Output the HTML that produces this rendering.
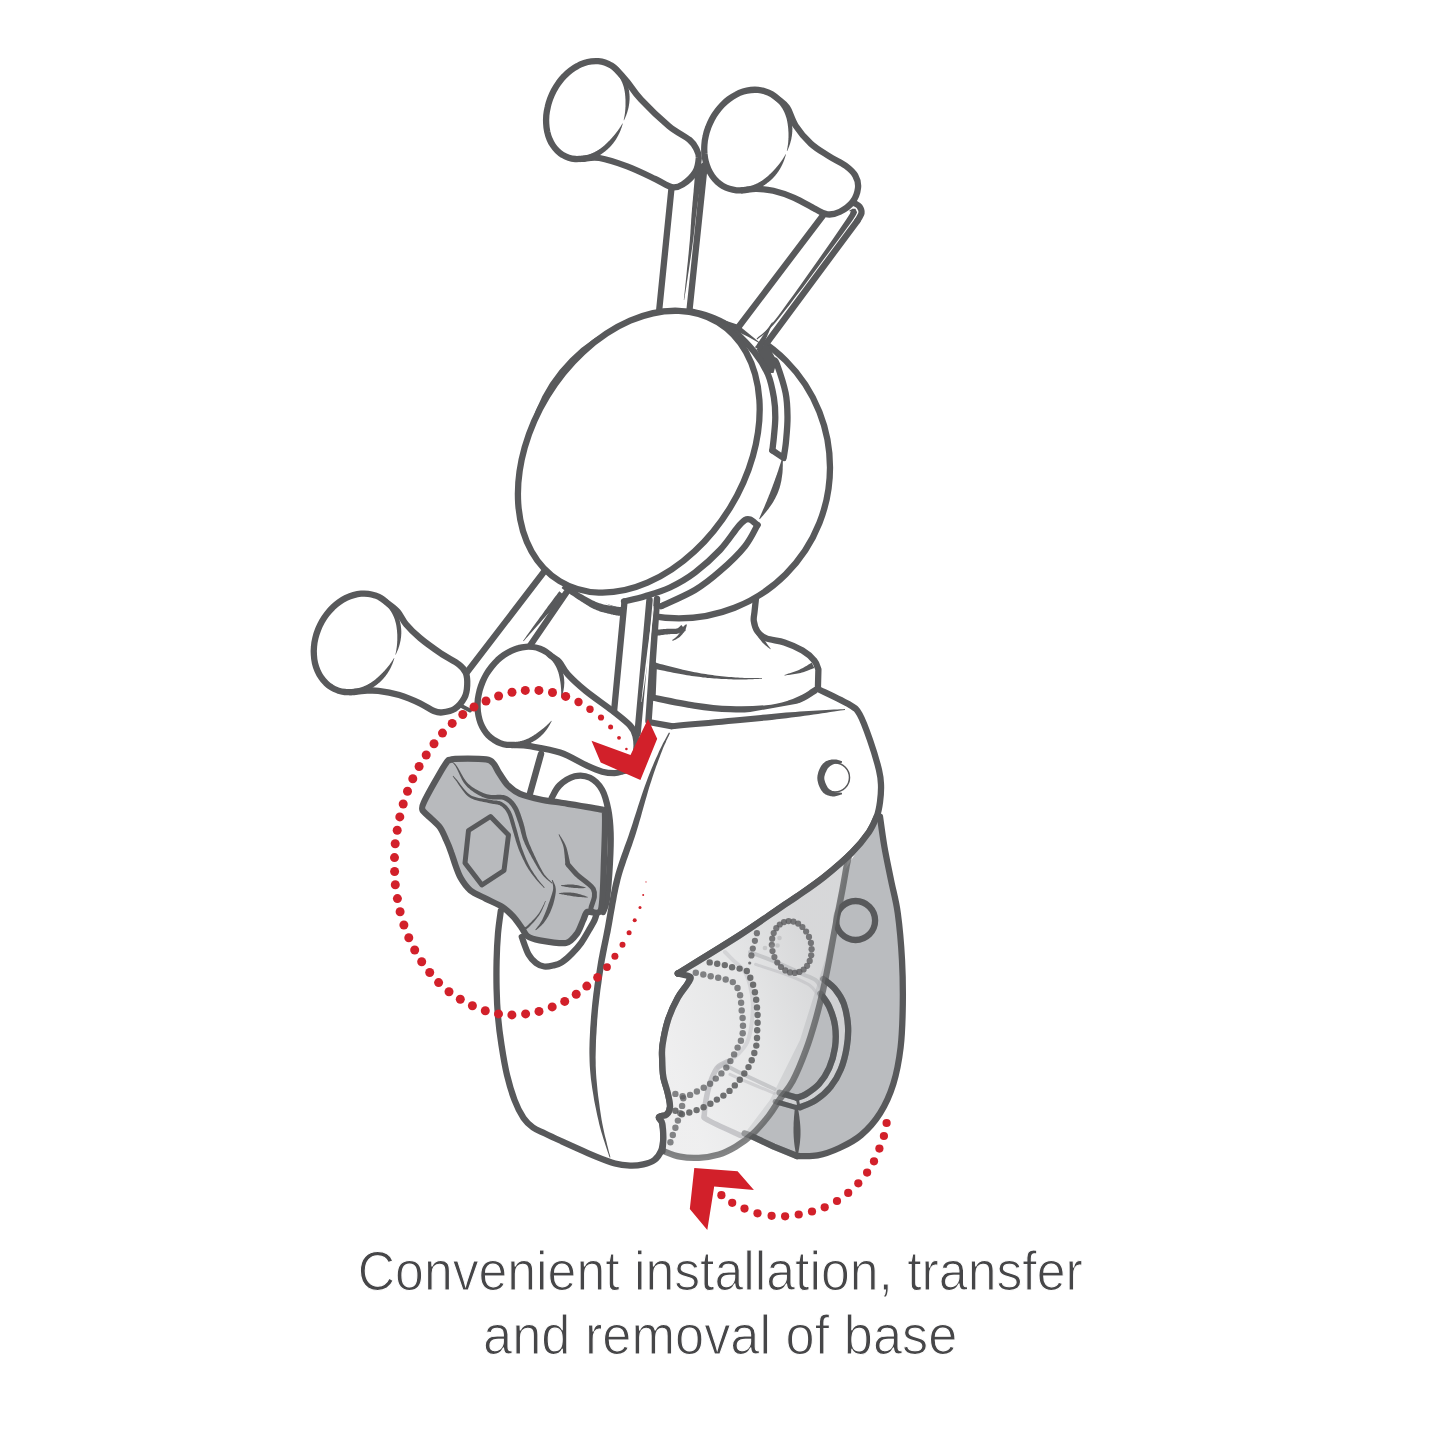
<!DOCTYPE html>
<html><head><meta charset="utf-8"><title>Convenient installation</title>
<style>
html,body{margin:0;padding:0;background:#fff;}
body{width:1440px;height:1440px;overflow:hidden;position:relative;font-family:"Liberation Sans",sans-serif;}
svg{position:absolute;left:0;top:0;}
.cap{position:absolute;left:0;width:1440px;text-align:center;color:#464648;font-family:"Liberation Sans",sans-serif;white-space:nowrap;-webkit-text-stroke:1.1px #fff;}
</style></head><body>
<svg width="1440" height="1440" viewBox="0 0 1440 1440">
<rect width="1440" height="1440" fill="#fff"/>
<path d="M756.0 598.0 C755.8 600.3 754.9 608.2 754.5 612.0 C754.1 615.8 753.3 617.8 753.8 621.0 C754.3 624.2 755.4 628.6 757.5 631.5 C759.6 634.4 761.9 636.6 766.4 638.4 C770.9 640.2 778.4 640.4 784.4 642.4 C790.4 644.4 797.5 647.5 802.5 650.5 C807.5 653.5 811.6 657.2 814.2 660.4 C816.9 663.5 817.7 667.9 818.4 669.4 L817.9 688.4 C817.0 689.0 815.0 690.4 812.5 692.0 C810.0 693.6 806.9 695.9 803.0 697.8 C799.1 699.7 795.1 701.9 789.0 703.6 C782.9 705.4 776.2 707.4 766.4 708.3 C756.6 709.2 742.3 709.7 730.3 709.2 C718.3 708.8 707.2 707.6 694.2 705.6 C681.2 703.6 659.5 698.9 652.5 697.5 L653.75 665 L657 615 L757 590 Z" fill="#fff" stroke="none" stroke-width="6.3" stroke-linejoin="round" stroke-linecap="round" />
<path d="M756.0 598.0 C755.8 600.3 754.9 608.2 754.5 612.0 C754.1 615.8 753.3 617.8 753.8 621.0 C754.3 624.2 755.4 628.6 757.5 631.5 C759.6 634.4 761.9 636.6 766.4 638.4 C770.9 640.2 778.4 640.4 784.4 642.4 C790.4 644.4 797.5 647.5 802.5 650.5 C807.5 653.5 811.6 657.2 814.2 660.4 C816.9 663.5 817.7 667.9 818.4 669.4 L817.9 688.4 C817.0 689.0 815.0 690.4 812.5 692.0 C810.0 693.6 806.9 695.9 803.0 697.8 C799.1 699.7 795.1 701.9 789.0 703.6 C782.9 705.4 776.2 707.4 766.4 708.3 C756.6 709.2 742.3 709.7 730.3 709.2 C718.3 708.8 707.2 707.6 694.2 705.6 C681.2 703.6 659.5 698.9 652.5 697.5" fill="none" stroke="#58595b" stroke-width="6.3" stroke-linejoin="round" stroke-linecap="round" />
<path d="M652.5 697.5 L653.8 665.0" fill="none" stroke="#58595b" stroke-width="6.3" stroke-linejoin="round" stroke-linecap="round" />
<path d="M653.0 668.6 L654.6 668.9 L656.5 669.3 L658.8 669.7 L661.3 670.3 L664.1 670.8 L667.1 671.4 L670.1 672.1 L673.2 672.7 L676.2 673.3 L679.2 673.8 L682.0 674.3 L684.6 674.8 L687.0 675.2 L689.4 675.5 L691.7 675.9 L694.0 676.2 L696.3 676.5 L698.5 676.8 L700.8 677.1 L703.0 677.4 L705.2 677.6 L707.5 677.9 L709.7 678.1 L712.0 678.3 L714.4 678.5 L716.7 678.6 L719.1 678.8 L721.5 678.9 L723.9 679.0 L726.3 679.1 L728.7 679.2 L731.1 679.3 L733.4 679.4 L735.7 679.4 L737.8 679.5 L740.0 679.5 L742.1 679.5 L744.3 679.4 L746.4 679.4 L748.6 679.3 L750.7 679.2 L752.7 679.2 L754.7 679.1 L756.5 679.0 L758.2 678.9 L759.7 678.8 L761.0 678.7 L762.0 678.7 L762.0 678.1 L760.9 678.1 L759.7 678.1 L758.2 678.1 L756.5 678.1 L754.7 678.1 L752.7 678.1 L750.7 678.1 L748.6 678.0 L746.4 678.0 L744.3 677.9 L742.1 677.8 L740.0 677.7 L737.9 677.6 L735.7 677.4 L733.5 677.3 L731.2 677.1 L728.9 676.9 L726.5 676.7 L724.1 676.5 L721.7 676.2 L719.4 676.0 L717.0 675.7 L714.7 675.4 L712.4 675.1 L710.1 674.8 L707.9 674.5 L705.7 674.1 L703.5 673.8 L701.3 673.4 L699.1 673.0 L696.9 672.6 L694.7 672.2 L692.4 671.7 L690.2 671.2 L687.8 670.7 L685.4 670.2 L682.9 669.7 L680.2 669.0 L677.3 668.3 L674.3 667.6 L671.3 666.8 L668.3 666.0 L665.4 665.3 L662.7 664.6 L660.1 663.9 L657.9 663.3 L656.0 662.8 L654.5 662.4Z" fill="#58595b" stroke="none"/>
<path d="M784.6 675.5 L785.3 675.4 L786.3 675.2 L787.5 675.1 L788.8 674.9 L790.2 674.7 L791.6 674.5 L793.2 674.3 L794.7 674.1 L796.3 673.8 L797.8 673.5 L799.2 673.2 L800.6 672.9 L801.9 672.6 L803.2 672.2 L804.6 671.7 L805.9 671.2 L807.3 670.7 L808.5 670.3 L809.8 669.8 L810.9 669.3 L812.0 668.9 L812.9 668.5 L813.7 668.2 L814.3 668.0 L811.7 662.6 L811.1 663.0 L810.3 663.4 L809.5 664.0 L808.5 664.5 L807.5 665.2 L806.4 665.9 L805.2 666.5 L804.1 667.2 L802.9 667.9 L801.7 668.5 L800.6 669.1 L799.4 669.7 L798.3 670.2 L797.0 670.7 L795.6 671.2 L794.1 671.7 L792.7 672.2 L791.2 672.7 L789.8 673.2 L788.5 673.6 L787.2 674.0 L786.1 674.4 L785.2 674.7 L784.4 674.9Z" fill="#58595b" stroke="none"/>
<path d="M756.1 634.4 L756.4 634.8 L756.8 635.3 L757.3 635.9 L757.8 636.6 L758.4 637.4 L759.0 638.2 L759.6 639.0 L760.2 639.8 L760.9 640.6 L761.6 641.4 L762.2 642.2 L762.8 642.9 L763.5 643.5 L764.2 644.2 L764.9 644.8 L765.6 645.4 L766.3 646.0 L767.0 646.6 L767.7 647.2 L768.4 647.7 L769.0 648.1 L769.5 648.6 L769.9 648.9 L770.3 649.2 L770.7 648.8 L770.4 648.4 L770.1 648.0 L769.7 647.4 L769.2 646.8 L768.7 646.2 L768.2 645.5 L767.6 644.8 L767.1 644.0 L766.6 643.3 L766.1 642.6 L765.6 641.8 L765.2 641.1 L764.8 640.4 L764.4 639.6 L764.0 638.7 L763.5 637.8 L763.1 636.9 L762.7 636.0 L762.3 635.1 L762.0 634.2 L761.6 633.4 L761.3 632.7 L761.1 632.1 L760.9 631.6Z" fill="#58595b" stroke="none"/>
<path d="M656.3 635.8 L656.9 635.7 L657.7 635.6 L658.6 635.5 L659.5 635.4 L660.6 635.2 L661.7 635.1 L662.9 634.9 L664.0 634.8 L665.2 634.6 L666.3 634.5 L667.3 634.4 L668.2 634.3 L669.0 634.2 L669.8 634.2 L670.7 634.1 L671.5 634.1 L672.3 634.1 L673.1 634.1 L674.0 634.1 L674.8 634.1 L675.7 634.0 L676.5 633.9 L677.4 633.7 L678.3 633.5 L679.1 633.2 L679.9 632.8 L680.7 632.3 L681.3 631.9 L682.0 631.4 L682.5 630.9 L683.0 630.4 L683.5 630.0 L683.8 629.6 L684.2 629.3 L684.4 629.1 L684.6 628.9 L681.4 625.1 L681.1 625.3 L680.7 625.6 L680.4 626.0 L680.0 626.3 L679.6 626.7 L679.2 627.0 L678.8 627.4 L678.3 627.7 L677.9 628.0 L677.5 628.2 L677.1 628.4 L676.7 628.5 L676.3 628.6 L675.8 628.7 L675.2 628.7 L674.6 628.7 L673.9 628.7 L673.2 628.7 L672.4 628.7 L671.5 628.7 L670.6 628.7 L669.7 628.7 L668.8 628.7 L667.8 628.7 L666.8 628.8 L665.7 628.9 L664.6 629.0 L663.4 629.1 L662.3 629.2 L661.1 629.3 L659.9 629.4 L658.9 629.5 L657.9 629.6 L657.0 629.7 L656.3 629.8 L655.7 629.8Z" fill="#58595b" stroke="none"/>
<path d="M685.1 631.3 L685.2 631.0 L685.3 630.6 L685.5 630.0 L685.6 629.4 L685.8 628.7 L686.0 628.1 L686.2 627.4 L686.4 626.7 L686.6 626.1 L686.7 625.6 L686.8 625.1 L686.9 624.8 L686.1 624.2 L685.8 624.5 L685.5 624.8 L685.0 625.1 L684.5 625.5 L684.0 626.0 L683.5 626.4 L682.9 626.9 L682.4 627.3 L681.9 627.8 L681.5 628.1 L681.2 628.4 L680.9 628.7Z" fill="#58595b" stroke="none"/>
<path d="M672.8 640.9 L673.1 640.7 L673.5 640.5 L674.0 640.3 L674.6 640.0 L675.2 639.7 L675.9 639.4 L676.6 639.0 L677.2 638.6 L677.9 638.2 L678.6 637.8 L679.3 637.3 L679.9 636.9 L680.4 636.3 L681.0 635.7 L681.6 635.1 L682.2 634.5 L682.7 633.8 L683.3 633.1 L683.8 632.5 L684.3 631.9 L684.7 631.3 L685.1 630.8 L685.4 630.4 L685.7 630.1 L682.3 627.9 L682.1 628.3 L681.9 628.8 L681.6 629.3 L681.2 629.9 L680.9 630.6 L680.5 631.3 L680.1 632.0 L679.7 632.7 L679.3 633.4 L678.9 634.0 L678.5 634.6 L678.1 635.1 L677.7 635.6 L677.2 636.1 L676.7 636.6 L676.2 637.1 L675.6 637.5 L675.0 638.0 L674.4 638.4 L673.9 638.8 L673.4 639.2 L672.9 639.5 L672.5 639.8 L672.2 640.1Z" fill="#58595b" stroke="none"/>
<circle cx="679" cy="467.4" r="151" fill="#fff" stroke="#58595b" stroke-width="6.3"/>
<path d="M671.5 188.0 L659.0 312.0 L689.3 312.0 L704.7 165.0Z" fill="#fff" stroke="#58595b" stroke-width="6.3" stroke-linejoin="round" stroke-linecap="round" />
<path d="M695.8 164.6 L695.7 165.8 L695.6 167.4 L695.4 169.2 L695.3 171.2 L695.1 173.4 L694.9 175.7 L694.7 178.1 L694.5 180.6 L694.3 183.0 L694.1 185.3 L693.9 187.6 L693.7 189.7 L693.6 191.7 L693.4 193.6 L693.2 195.5 L693.0 197.3 L692.9 199.2 L692.7 201.0 L692.5 202.9 L692.4 204.8 L692.2 206.7 L692.0 208.6 L691.9 210.7 L691.7 212.8 L691.5 214.9 L691.4 217.0 L691.2 219.2 L691.1 221.4 L691.0 223.6 L690.8 225.8 L690.7 228.1 L690.5 230.5 L690.4 232.9 L690.2 235.5 L690.0 238.1 L689.8 240.8 L689.5 243.7 L689.2 246.9 L688.9 250.3 L688.6 253.7 L688.2 257.3 L687.9 260.9 L687.5 264.4 L687.1 267.9 L686.8 271.2 L686.5 274.4 L686.2 277.3 L685.9 279.9 L685.7 282.3 L685.4 284.6 L685.2 286.7 L685.0 288.8 L684.8 290.6 L684.6 292.4 L684.4 294.0 L684.3 295.5 L684.1 296.8 L684.0 298.0 L683.9 299.1 L683.8 300.0 L684.2 300.0 L684.3 299.1 L684.5 298.1 L684.7 296.9 L684.9 295.6 L685.1 294.1 L685.4 292.5 L685.7 290.7 L685.9 288.9 L686.3 286.9 L686.6 284.7 L686.9 282.5 L687.3 280.1 L687.7 277.5 L688.1 274.6 L688.6 271.4 L689.1 268.1 L689.6 264.7 L690.1 261.1 L690.7 257.6 L691.2 254.1 L691.7 250.6 L692.2 247.3 L692.6 244.1 L693.0 241.2 L693.4 238.4 L693.7 235.8 L694.0 233.3 L694.3 230.8 L694.6 228.5 L694.8 226.2 L695.1 223.9 L695.3 221.7 L695.6 219.6 L695.8 217.5 L696.1 215.3 L696.3 213.2 L696.6 211.2 L696.8 209.2 L697.1 207.2 L697.4 205.3 L697.6 203.5 L697.9 201.6 L698.1 199.8 L698.4 197.9 L698.7 196.1 L698.9 194.2 L699.2 192.3 L699.5 190.3 L699.8 188.2 L700.1 186.0 L700.4 183.6 L700.7 181.2 L701.0 178.8 L701.3 176.4 L701.6 174.1 L701.9 171.9 L702.2 169.9 L702.4 168.1 L702.6 166.6 L702.8 165.4Z" fill="#58595b" stroke="none"/>
<path d="M822.6 216.0 L739.4 326.0 L763.9 346.0 L857.4 220.8Z" fill="#fff" stroke="none" stroke-width="6.3" stroke-linejoin="round" stroke-linecap="round" />
<path d="M822.6 216.0 L738.5 327.0" fill="none" stroke="#58595b" stroke-width="6.3" stroke-linejoin="round" stroke-linecap="round" />
<path d="M857.4 220.8 L766.0 344.0" fill="none" stroke="#58595b" stroke-width="6.3" stroke-linejoin="round" stroke-linecap="round" />
<path d="M854.7 203.3 C855.5 203.8 858.4 204.9 859.5 206.5 C860.6 208.1 861.9 210.6 861.5 213.0 C861.1 215.4 858.1 219.5 857.4 220.8" fill="none" stroke="#58595b" stroke-width="6.3" stroke-linejoin="round" stroke-linecap="round" />
<path d="M849.1 216.9 L851.2 216.8 L852.3 216.1 L853.1 215.5 L853.9 214.8 L854.6 214.3 L854.8 214.1 L852.8 214.0 L851.3 211.2 L851.2 211.4 L850.4 213.0 L848.8 215.6 L846.4 219.2 L843.0 224.3 L838.4 230.9 L833.1 238.7 L827.0 247.4 L820.5 256.7 L813.8 266.3 L806.9 276.0 L800.2 285.5 L793.8 294.4 L787.9 302.6 L782.7 309.7 L778.5 315.4 L775.0 320.0 L771.9 323.8 L769.3 326.9 L767.0 329.4 L765.0 331.4 L763.3 333.0 L761.9 334.2 L760.6 335.2 L759.5 336.1 L758.5 336.8 L757.5 337.7 L756.6 338.6 L757.4 339.4 L758.3 338.6 L759.3 337.8 L760.3 337.1 L761.4 336.3 L762.8 335.3 L764.3 334.1 L766.1 332.5 L768.1 330.5 L770.5 328.0 L773.3 325.0 L776.5 321.2 L780.1 316.8 L784.6 311.1 L790.0 304.2 L796.1 296.1 L802.8 287.4 L809.8 278.1 L816.9 268.6 L823.9 259.1 L830.7 250.0 L837.0 241.5 L842.6 233.9 L847.3 227.4 L851.0 222.4 L853.6 218.7 L855.3 215.9 L856.4 214.0 L857.1 212.3 L855.4 208.7 L852.4 208.8 L851.3 209.4 L850.3 210.1 L849.4 210.8 L848.8 211.3 L848.9 211.3 L850.7 211.1Z" fill="#58595b" stroke="none"/>
<path d="M582.2 158.8 C578.2 159.0 577.5 159.2 575.3 159.0 C573.0 158.8 570.8 158.4 568.7 157.7 C566.6 157.0 564.5 156.1 562.6 154.9 C560.7 153.8 558.9 152.4 557.3 150.8 C555.7 149.2 554.2 147.4 552.9 145.4 C551.6 143.4 550.4 141.3 549.5 139.0 C548.5 136.7 547.8 134.2 547.2 131.6 C546.7 129.1 546.3 126.4 546.2 123.7 C546.0 120.9 546.1 118.1 546.3 115.3 C546.6 112.5 547.1 109.6 547.8 106.7 C548.4 103.9 549.3 101.1 550.3 98.3 C551.4 95.5 552.7 92.8 554.0 90.2 C555.4 87.6 557.0 85.1 558.7 82.7 C560.5 80.4 562.3 78.1 564.3 76.1 C566.3 74.0 568.4 72.1 570.5 70.5 C572.7 68.8 575.0 67.3 577.3 66.1 C579.5 64.8 581.9 63.8 584.3 63.0 C586.6 62.2 589.0 61.7 591.4 61.4 C593.7 61.1 596.1 61.0 598.3 61.2 C600.6 61.4 602.8 61.8 604.9 62.5 C607.0 63.2 609.1 64.1 611.0 65.3 C612.9 66.4 613.6 66.7 616.3 69.4 C619.0 72.2 623.1 76.7 627.2 81.7 C631.3 86.7 634.2 92.3 641.1 99.7 C648.0 107.1 660.8 119.4 668.9 126.1 C677.0 132.8 685.1 136.1 689.7 140.0 C694.3 143.9 695.2 146.7 696.7 149.7 C698.2 152.7 699.0 154.3 698.8 158.0 C698.5 161.7 698.0 167.6 695.3 172.0 C692.6 176.4 686.7 181.9 682.8 184.4 C678.9 186.9 676.3 188.1 671.7 187.2 C667.1 186.3 662.4 182.4 655.0 178.9 C647.6 175.4 636.5 169.9 627.2 166.4 C617.9 162.9 606.9 159.3 599.4 158.0 C591.9 156.7 586.3 158.7 582.2 158.8Z" fill="#fff" stroke="#58595b" stroke-width="6.3" stroke-linejoin="round" stroke-linecap="round" />
<path d="M612.4 69.6 L612.6 69.8 L612.8 70.0 L613.0 70.1 L613.2 70.3 L613.5 70.6 L613.8 70.8 L614.1 71.0 L614.4 71.3 L614.6 71.5 L614.9 71.8 L615.1 72.0 L615.3 72.2 L615.6 72.4 L615.8 72.7 L616.0 72.9 L616.2 73.1 L616.4 73.4 L616.6 73.6 L616.9 73.8 L617.1 74.1 L617.3 74.3 L617.5 74.6 L617.7 74.8 L617.9 75.1 L618.1 75.4 L618.3 75.6 L618.5 75.9 L618.7 76.2 L618.8 76.4 L619.0 76.7 L619.2 77.0 L619.4 77.3 L619.6 77.5 L619.8 77.8 L619.9 78.1 L620.1 78.4 L620.3 78.7 L620.4 79.0 L620.6 79.3 L620.8 79.6 L620.9 79.9 L621.1 80.2 L621.2 80.5 L621.4 80.8 L621.5 81.2 L621.7 81.5 L621.8 81.8 L622.0 82.1 L622.1 82.4 L622.3 82.8 L622.4 83.1 L622.5 83.4 L622.6 83.8 L622.8 84.1 L622.9 84.4 L623.0 84.8 L623.1 85.1 L623.2 85.5 L623.4 85.8 L623.5 86.2 L623.6 86.5 L623.7 86.9 L623.8 87.2 L623.9 87.6 L624.0 87.9 L624.0 88.3 L624.1 88.7 L624.2 89.0 L624.3 89.4 L624.4 89.8 L624.4 90.1 L624.5 90.5 L624.6 90.9 L624.6 91.2 L624.7 91.6 L624.8 92.0 L624.8 92.4 L624.9 92.8 L624.9 93.1 L625.0 93.5 L625.0 93.9 L625.1 94.3 L625.1 94.7 L625.1 95.1 L625.2 95.5 L625.2 95.9 L625.3 96.2 L625.3 96.6 L625.3 97.0 L625.3 97.4 L625.4 97.8 L625.4 98.2 L625.4 98.6 L625.4 99.0 L625.5 99.4 L625.5 99.8 L625.5 100.2 L625.5 100.6 L625.5 101.0 L625.5 101.5 L625.5 101.9 L625.5 102.3 L625.5 102.7 L625.5 103.1 L625.5 103.5 L625.5 103.9 L625.5 104.3 L625.5 104.8 L625.5 105.2 L625.5 105.6 L625.5 106.0 L625.5 106.4 L625.5 106.8 L625.4 107.3 L625.4 107.7 L625.4 108.1 L625.4 108.5 L625.3 109.0 L625.3 109.4 L625.3 109.8 L625.2 110.2 L625.2 110.7 L625.2 111.1 L625.1 111.5 L625.1 111.9 L625.0 112.4 L625.0 112.8 L624.9 113.2 L624.9 113.7 L624.8 114.1 L624.7 114.5 L624.7 115.0 L624.6 115.4 L624.5 115.9 L624.4 116.4 L624.3 116.9 L624.2 117.4 L624.1 117.9 L624.0 118.4 L623.9 118.8 L623.9 119.2 L623.8 119.6 L623.7 119.9 L623.7 120.2 L624.1 120.3 L624.2 120.1 L624.3 119.8 L624.4 119.4 L624.6 119.0 L624.8 118.6 L625.0 118.2 L625.2 117.7 L625.4 117.2 L625.6 116.7 L625.8 116.3 L626.0 115.8 L626.2 115.4 L626.3 114.9 L626.5 114.5 L626.6 114.1 L626.8 113.7 L626.9 113.3 L627.1 112.8 L627.2 112.4 L627.3 112.0 L627.5 111.6 L627.6 111.1 L627.7 110.7 L627.8 110.3 L627.9 109.8 L628.1 109.4 L628.2 109.0 L628.3 108.5 L628.4 108.1 L628.5 107.7 L628.6 107.2 L628.7 106.8 L628.7 106.4 L628.8 105.9 L628.9 105.5 L629.0 105.1 L629.0 104.6 L629.1 104.2 L629.2 103.8 L629.2 103.3 L629.3 102.9 L629.3 102.5 L629.4 102.0 L629.4 101.6 L629.4 101.2 L629.5 100.7 L629.5 100.3 L629.5 99.9 L629.6 99.4 L629.6 99.0 L629.6 98.6 L629.6 98.1 L629.6 97.7 L629.6 97.3 L629.6 96.8 L629.6 96.4 L629.6 96.0 L629.5 95.6 L629.5 95.1 L629.5 94.7 L629.5 94.3 L629.4 93.9 L629.4 93.4 L629.3 93.0 L629.3 92.6 L629.2 92.2 L629.2 91.8 L629.1 91.4 L629.1 90.9 L629.0 90.5 L628.9 90.1 L628.8 89.7 L628.8 89.3 L628.7 88.9 L628.6 88.5 L628.5 88.1 L628.4 87.7 L628.4 87.3 L628.3 86.9 L628.2 86.5 L628.1 86.1 L628.0 85.7 L627.9 85.3 L627.8 84.9 L627.7 84.5 L627.5 84.1 L627.4 83.8 L627.3 83.4 L627.2 83.0 L627.1 82.6 L626.9 82.2 L626.8 81.8 L626.7 81.5 L626.5 81.1 L626.4 80.7 L626.2 80.4 L626.1 80.0 L626.0 79.6 L625.8 79.3 L625.6 78.9 L625.5 78.5 L625.3 78.2 L625.2 77.8 L625.0 77.5 L624.8 77.1 L624.7 76.8 L624.5 76.4 L624.3 76.1 L624.1 75.8 L623.9 75.4 L623.8 75.1 L623.6 74.7 L623.4 74.4 L623.2 74.1 L623.0 73.8 L622.8 73.4 L622.6 73.1 L622.4 72.8 L622.2 72.5 L621.9 72.2 L621.7 71.8 L621.5 71.5 L621.3 71.2 L621.1 70.9 L620.8 70.6 L620.6 70.3 L620.4 70.0 L620.1 69.7 L619.9 69.5 L619.7 69.2 L619.4 68.9 L619.2 68.6 L618.9 68.3 L618.6 68.0 L618.3 67.7 L618.0 67.4 L617.7 67.1 L617.4 66.8 L617.1 66.5 L616.9 66.3 L616.6 66.1 L616.4 65.9 L616.3 65.7 L616.1 65.6Z" fill="#58595b" stroke="none"/>
<path d="M579.7 162.2 L579.9 162.2 L580.2 162.2 L580.5 162.1 L580.8 162.1 L581.2 162.0 L581.6 162.0 L582.0 161.9 L582.4 161.9 L582.9 161.8 L583.3 161.8 L583.7 161.7 L584.1 161.6 L584.5 161.5 L584.9 161.4 L585.3 161.4 L585.7 161.3 L586.1 161.2 L586.4 161.1 L586.8 161.0 L587.2 160.9 L587.6 160.8 L588.0 160.6 L588.3 160.5 L588.7 160.4 L589.1 160.3 L589.5 160.2 L589.8 160.0 L590.2 159.9 L590.6 159.7 L591.0 159.6 L591.4 159.5 L591.7 159.3 L592.1 159.2 L592.5 159.0 L592.8 158.8 L593.2 158.7 L593.6 158.5 L594.0 158.3 L594.3 158.2 L594.7 158.0 L595.1 157.8 L595.4 157.6 L595.8 157.4 L596.2 157.2 L596.5 157.1 L596.9 156.9 L597.2 156.7 L597.6 156.5 L598.0 156.2 L598.3 156.0 L598.7 155.8 L599.0 155.6 L599.4 155.4 L599.8 155.2 L600.1 154.9 L600.5 154.7 L600.8 154.5 L601.2 154.2 L601.5 154.0 L601.9 153.8 L602.2 153.5 L602.6 153.3 L602.9 153.0 L603.3 152.8 L603.6 152.5 L603.9 152.3 L604.3 152.0 L604.6 151.7 L605.0 151.5 L605.3 151.2 L605.6 150.9 L606.0 150.6 L606.3 150.4 L606.6 150.1 L607.0 149.8 L607.3 149.5 L607.6 149.2 L608.0 148.9 L608.3 148.6 L608.6 148.3 L608.9 148.0 L609.2 147.7 L609.5 147.4 L609.9 147.1 L610.2 146.8 L610.5 146.5 L610.8 146.1 L611.1 145.8 L611.4 145.5 L611.7 145.1 L612.0 144.8 L612.2 144.5 L612.5 144.1 L612.8 143.8 L613.1 143.4 L613.4 143.1 L613.6 142.7 L613.9 142.3 L614.2 142.0 L614.4 141.6 L614.7 141.3 L615.0 140.9 L615.2 140.5 L615.5 140.1 L615.7 139.8 L616.0 139.4 L616.2 139.0 L616.4 138.6 L616.7 138.2 L616.9 137.8 L617.1 137.4 L617.3 137.0 L617.6 136.6 L617.8 136.2 L618.0 135.8 L618.2 135.4 L618.4 135.0 L618.6 134.6 L618.8 134.2 L619.0 133.8 L619.2 133.4 L619.4 133.0 L619.6 132.6 L619.8 132.2 L620.0 131.7 L620.1 131.3 L620.3 130.9 L620.5 130.5 L620.7 130.1 L620.8 129.6 L621.0 129.2 L621.1 128.8 L621.3 128.3 L621.5 127.9 L621.6 127.4 L621.8 126.9 L621.9 126.4 L622.1 125.9 L622.2 125.4 L622.4 125.0 L622.5 124.6 L622.6 124.2 L622.7 123.9 L622.8 123.6 L622.4 123.5 L622.3 123.7 L622.1 124.0 L621.9 124.3 L621.7 124.7 L621.5 125.1 L621.2 125.5 L620.9 125.9 L620.7 126.4 L620.4 126.8 L620.1 127.2 L619.9 127.6 L619.6 128.0 L619.4 128.4 L619.1 128.8 L618.9 129.1 L618.6 129.5 L618.4 129.8 L618.1 130.2 L617.9 130.6 L617.6 130.9 L617.3 131.3 L617.1 131.6 L616.8 132.0 L616.5 132.3 L616.3 132.6 L616.0 133.0 L615.7 133.3 L615.5 133.7 L615.2 134.0 L614.9 134.3 L614.7 134.7 L614.4 135.0 L614.1 135.3 L613.8 135.7 L613.6 136.0 L613.3 136.3 L613.0 136.6 L612.7 137.0 L612.4 137.3 L612.2 137.6 L611.9 137.9 L611.6 138.2 L611.3 138.5 L611.0 138.8 L610.7 139.2 L610.4 139.5 L610.2 139.8 L609.9 140.1 L609.6 140.4 L609.3 140.7 L609.0 141.0 L608.7 141.3 L608.4 141.5 L608.1 141.8 L607.8 142.1 L607.5 142.4 L607.2 142.7 L607.0 143.0 L606.7 143.3 L606.4 143.5 L606.1 143.8 L605.8 144.1 L605.5 144.4 L605.2 144.6 L604.9 144.9 L604.6 145.2 L604.3 145.5 L604.0 145.7 L603.7 146.0 L603.4 146.2 L603.1 146.5 L602.8 146.7 L602.5 147.0 L602.1 147.2 L601.8 147.5 L601.5 147.7 L601.2 148.0 L600.9 148.2 L600.6 148.4 L600.3 148.6 L600.0 148.9 L599.6 149.1 L599.3 149.3 L599.0 149.5 L598.7 149.7 L598.4 149.9 L598.0 150.1 L597.7 150.3 L597.4 150.5 L597.1 150.7 L596.7 150.9 L596.4 151.1 L596.1 151.3 L595.7 151.5 L595.4 151.6 L595.1 151.8 L594.8 152.0 L594.4 152.2 L594.1 152.3 L593.8 152.5 L593.4 152.6 L593.1 152.8 L592.8 152.9 L592.4 153.1 L592.1 153.2 L591.8 153.3 L591.4 153.5 L591.1 153.6 L590.8 153.7 L590.4 153.9 L590.1 154.0 L589.8 154.1 L589.4 154.2 L589.1 154.3 L588.8 154.4 L588.4 154.5 L588.1 154.6 L587.8 154.7 L587.4 154.8 L587.1 154.9 L586.8 155.0 L586.4 155.1 L586.1 155.1 L585.8 155.2 L585.4 155.3 L585.1 155.3 L584.8 155.4 L584.5 155.5 L584.1 155.5 L583.8 155.6 L583.5 155.6 L583.2 155.7 L582.8 155.7 L582.5 155.7 L582.1 155.8 L581.8 155.8 L581.4 155.8 L581.0 155.9 L580.6 155.9 L580.3 155.9 L579.9 155.9 L579.6 155.9 L579.3 155.9 L579.1 156.0Z" fill="#58595b" stroke="none"/>
<path d="M743.8 190.2 C740.4 190.4 738.8 190.5 736.4 190.3 C734.0 190.0 731.6 189.5 729.3 188.8 C727.1 188.1 724.9 187.1 722.8 185.9 C720.8 184.7 718.8 183.2 717.0 181.6 C715.3 179.9 713.6 178.0 712.2 176.0 C710.7 173.9 709.5 171.7 708.4 169.3 C707.3 166.9 706.4 164.4 705.8 161.8 C705.1 159.1 704.7 156.3 704.4 153.5 C704.2 150.7 704.2 147.8 704.4 144.9 C704.6 142.0 705.0 139.0 705.7 136.1 C706.3 133.2 707.1 130.3 708.2 127.5 C709.2 124.7 710.5 121.9 711.9 119.2 C713.3 116.6 714.9 114.0 716.7 111.6 C718.4 109.2 720.4 106.9 722.4 104.8 C724.4 102.7 726.6 100.8 728.9 99.1 C731.1 97.4 733.5 95.9 735.9 94.7 C738.3 93.4 740.8 92.4 743.3 91.6 C745.8 90.8 748.3 90.3 750.8 90.0 C753.3 89.7 755.8 89.7 758.2 89.9 C760.6 90.2 763.0 90.7 765.3 91.4 C767.5 92.1 769.7 93.1 771.8 94.3 C773.8 95.5 775.0 96.4 777.6 98.6 C780.1 100.8 784.2 103.0 787.2 107.5 C790.2 112.0 791.7 119.6 795.6 125.6 C799.5 131.6 805.2 138.5 810.8 143.6 C816.3 148.7 823.1 152.4 828.9 156.1 C834.7 159.8 841.2 162.6 845.6 165.8 C850.0 169.1 853.2 171.9 855.3 175.6 C857.4 179.3 858.5 183.6 858.0 188.0 C857.5 192.4 855.5 198.1 852.5 202.0 C849.5 205.9 844.2 209.6 840.0 211.7 C835.8 213.8 831.7 214.9 827.5 214.4 C823.3 213.9 820.5 211.7 815.0 208.9 C809.5 206.1 801.2 200.8 794.2 197.8 C787.2 194.8 779.5 192.3 773.3 190.8 C767.0 189.3 761.6 188.9 756.7 188.8 C751.8 188.6 747.2 189.9 743.8 190.2Z" fill="#fff" stroke="#58595b" stroke-width="6.3" stroke-linejoin="round" stroke-linecap="round" />
<path d="M773.5 98.8 L773.7 99.0 L773.9 99.1 L774.2 99.3 L774.5 99.6 L774.7 99.8 L775.0 100.0 L775.3 100.3 L775.7 100.5 L776.0 100.8 L776.2 101.0 L776.5 101.3 L776.8 101.5 L777.0 101.7 L777.2 102.0 L777.5 102.2 L777.7 102.5 L778.0 102.7 L778.2 103.0 L778.4 103.2 L778.7 103.5 L778.9 103.7 L779.1 104.0 L779.3 104.3 L779.5 104.5 L779.8 104.8 L780.0 105.1 L780.2 105.4 L780.4 105.6 L780.6 105.9 L780.8 106.2 L781.0 106.5 L781.2 106.8 L781.4 107.1 L781.6 107.4 L781.8 107.7 L782.0 108.0 L782.2 108.3 L782.4 108.6 L782.6 108.9 L782.8 109.2 L782.9 109.5 L783.1 109.9 L783.3 110.2 L783.5 110.5 L783.6 110.8 L783.8 111.2 L784.0 111.5 L784.1 111.8 L784.3 112.2 L784.4 112.5 L784.6 112.8 L784.7 113.2 L784.9 113.5 L785.0 113.9 L785.1 114.2 L785.3 114.6 L785.4 114.9 L785.5 115.3 L785.7 115.7 L785.8 116.0 L785.9 116.4 L786.0 116.7 L786.1 117.1 L786.3 117.5 L786.4 117.9 L786.5 118.2 L786.6 118.6 L786.7 119.0 L786.8 119.4 L786.9 119.7 L786.9 120.1 L787.0 120.5 L787.1 120.9 L787.2 121.3 L787.3 121.7 L787.3 122.1 L787.4 122.4 L787.5 122.8 L787.5 123.2 L787.6 123.6 L787.7 124.0 L787.7 124.4 L787.8 124.8 L787.8 125.2 L787.9 125.6 L787.9 126.0 L788.0 126.4 L788.0 126.8 L788.1 127.2 L788.1 127.7 L788.2 128.1 L788.2 128.5 L788.2 128.9 L788.3 129.3 L788.3 129.7 L788.3 130.1 L788.3 130.5 L788.4 130.9 L788.4 131.4 L788.4 131.8 L788.4 132.2 L788.5 132.6 L788.5 133.0 L788.5 133.5 L788.5 133.9 L788.5 134.3 L788.5 134.7 L788.5 135.2 L788.5 135.6 L788.5 136.0 L788.5 136.5 L788.5 136.9 L788.5 137.3 L788.5 137.7 L788.4 138.2 L788.4 138.6 L788.4 139.0 L788.4 139.5 L788.4 139.9 L788.3 140.3 L788.3 140.8 L788.3 141.2 L788.2 141.7 L788.2 142.1 L788.2 142.5 L788.1 143.0 L788.1 143.4 L788.0 143.9 L788.0 144.3 L787.9 144.7 L787.8 145.2 L787.8 145.6 L787.7 146.1 L787.6 146.6 L787.6 147.1 L787.5 147.6 L787.4 148.1 L787.3 148.6 L787.2 149.1 L787.1 149.6 L787.0 150.0 L786.9 150.4 L786.9 150.7 L786.8 150.9 L787.2 151.1 L787.3 150.8 L787.4 150.5 L787.6 150.2 L787.8 149.8 L787.9 149.3 L788.1 148.9 L788.3 148.4 L788.5 147.9 L788.7 147.4 L788.9 146.9 L789.1 146.4 L789.3 146.0 L789.4 145.6 L789.6 145.1 L789.7 144.7 L789.9 144.3 L790.0 143.8 L790.1 143.4 L790.3 143.0 L790.4 142.5 L790.5 142.1 L790.6 141.6 L790.8 141.2 L790.9 140.8 L791.0 140.3 L791.1 139.9 L791.2 139.4 L791.3 139.0 L791.4 138.5 L791.5 138.1 L791.5 137.6 L791.6 137.2 L791.7 136.7 L791.8 136.3 L791.8 135.9 L791.9 135.4 L792.0 135.0 L792.0 134.5 L792.1 134.1 L792.1 133.6 L792.2 133.2 L792.2 132.7 L792.2 132.3 L792.3 131.8 L792.3 131.4 L792.3 130.9 L792.3 130.5 L792.3 130.0 L792.4 129.6 L792.4 129.1 L792.4 128.7 L792.4 128.3 L792.3 127.8 L792.3 127.4 L792.3 126.9 L792.3 126.5 L792.3 126.0 L792.2 125.6 L792.2 125.2 L792.2 124.7 L792.1 124.3 L792.1 123.9 L792.0 123.4 L791.9 123.0 L791.9 122.6 L791.8 122.1 L791.7 121.7 L791.7 121.3 L791.6 120.9 L791.5 120.4 L791.4 120.0 L791.3 119.6 L791.3 119.2 L791.2 118.7 L791.1 118.3 L791.0 117.9 L790.9 117.5 L790.8 117.1 L790.6 116.7 L790.5 116.3 L790.4 115.9 L790.3 115.4 L790.2 115.0 L790.0 114.6 L789.9 114.2 L789.8 113.8 L789.7 113.4 L789.5 113.0 L789.4 112.7 L789.2 112.3 L789.1 111.9 L788.9 111.5 L788.8 111.1 L788.6 110.7 L788.5 110.3 L788.3 109.9 L788.1 109.6 L788.0 109.2 L787.8 108.8 L787.6 108.4 L787.5 108.1 L787.3 107.7 L787.1 107.3 L786.9 107.0 L786.7 106.6 L786.5 106.3 L786.3 105.9 L786.1 105.5 L785.9 105.2 L785.7 104.8 L785.5 104.5 L785.3 104.2 L785.1 103.8 L784.9 103.5 L784.7 103.1 L784.4 102.8 L784.2 102.5 L784.0 102.1 L783.8 101.8 L783.5 101.5 L783.3 101.2 L783.0 100.8 L782.8 100.5 L782.6 100.2 L782.3 99.9 L782.1 99.6 L781.8 99.3 L781.5 99.0 L781.3 98.7 L781.0 98.4 L780.8 98.1 L780.5 97.8 L780.2 97.5 L779.9 97.2 L779.5 96.9 L779.2 96.6 L778.9 96.3 L778.6 96.0 L778.3 95.7 L778.0 95.4 L777.7 95.2 L777.5 95.0 L777.3 94.8 L777.2 94.7Z" fill="#58595b" stroke="none"/>
<path d="M741.1 193.5 L741.3 193.5 L741.5 193.5 L741.8 193.5 L742.2 193.4 L742.6 193.4 L743.0 193.3 L743.4 193.3 L743.9 193.2 L744.4 193.2 L744.8 193.1 L745.3 193.0 L745.7 193.0 L746.1 192.9 L746.5 192.8 L746.9 192.7 L747.3 192.6 L747.7 192.5 L748.1 192.4 L748.5 192.3 L748.9 192.2 L749.3 192.1 L749.7 192.0 L750.1 191.9 L750.5 191.8 L750.9 191.7 L751.3 191.5 L751.7 191.4 L752.1 191.3 L752.5 191.1 L752.9 191.0 L753.3 190.9 L753.7 190.7 L754.1 190.6 L754.5 190.4 L754.9 190.2 L755.3 190.1 L755.7 189.9 L756.1 189.7 L756.4 189.6 L756.8 189.4 L757.2 189.2 L757.6 189.0 L758.0 188.8 L758.4 188.7 L758.7 188.5 L759.1 188.3 L759.5 188.1 L759.9 187.9 L760.3 187.6 L760.6 187.4 L761.0 187.2 L761.4 187.0 L761.8 186.8 L762.1 186.6 L762.5 186.3 L762.9 186.1 L763.3 185.9 L763.6 185.6 L764.0 185.4 L764.4 185.1 L764.7 184.9 L765.1 184.7 L765.4 184.4 L765.8 184.1 L766.2 183.9 L766.5 183.6 L766.9 183.4 L767.2 183.1 L767.6 182.8 L767.9 182.6 L768.3 182.3 L768.6 182.0 L769.0 181.7 L769.3 181.4 L769.7 181.1 L770.0 180.9 L770.4 180.6 L770.7 180.3 L771.0 180.0 L771.4 179.7 L771.7 179.3 L772.0 179.0 L772.3 178.7 L772.7 178.4 L773.0 178.1 L773.3 177.7 L773.6 177.4 L773.9 177.1 L774.2 176.7 L774.5 176.4 L774.8 176.1 L775.1 175.7 L775.4 175.4 L775.7 175.0 L776.0 174.6 L776.3 174.3 L776.6 173.9 L776.9 173.6 L777.1 173.2 L777.4 172.8 L777.7 172.4 L777.9 172.1 L778.2 171.7 L778.5 171.3 L778.7 170.9 L779.0 170.5 L779.2 170.1 L779.5 169.7 L779.7 169.4 L779.9 169.0 L780.2 168.6 L780.4 168.2 L780.6 167.7 L780.9 167.3 L781.1 166.9 L781.3 166.5 L781.5 166.1 L781.7 165.7 L781.9 165.3 L782.1 164.9 L782.3 164.4 L782.5 164.0 L782.7 163.6 L782.9 163.2 L783.1 162.8 L783.3 162.3 L783.4 161.9 L783.6 161.5 L783.8 161.0 L784.0 160.6 L784.1 160.2 L784.3 159.7 L784.4 159.3 L784.6 158.8 L784.8 158.3 L784.9 157.8 L785.1 157.3 L785.3 156.8 L785.4 156.3 L785.5 155.8 L785.7 155.4 L785.8 155.1 L785.9 154.7 L785.9 154.5 L785.6 154.3 L785.4 154.5 L785.3 154.8 L785.1 155.2 L784.9 155.5 L784.6 156.0 L784.4 156.4 L784.1 156.8 L783.8 157.3 L783.6 157.7 L783.3 158.2 L783.0 158.6 L782.8 159.0 L782.5 159.4 L782.3 159.7 L782.0 160.1 L781.8 160.5 L781.5 160.8 L781.3 161.2 L781.0 161.6 L780.7 161.9 L780.5 162.3 L780.2 162.7 L779.9 163.0 L779.7 163.4 L779.4 163.7 L779.1 164.1 L778.9 164.4 L778.6 164.8 L778.3 165.1 L778.0 165.5 L777.8 165.8 L777.5 166.1 L777.2 166.5 L776.9 166.8 L776.6 167.1 L776.3 167.5 L776.1 167.8 L775.8 168.1 L775.5 168.5 L775.2 168.8 L774.9 169.1 L774.6 169.4 L774.3 169.7 L774.0 170.0 L773.7 170.4 L773.4 170.7 L773.1 171.0 L772.9 171.3 L772.6 171.6 L772.3 171.9 L772.0 172.2 L771.7 172.5 L771.4 172.8 L771.1 173.1 L770.7 173.4 L770.4 173.7 L770.1 174.0 L769.8 174.3 L769.5 174.5 L769.2 174.8 L768.9 175.1 L768.6 175.4 L768.3 175.7 L768.0 175.9 L767.7 176.2 L767.4 176.5 L767.1 176.7 L766.7 177.0 L766.4 177.3 L766.1 177.5 L765.8 177.8 L765.5 178.1 L765.2 178.3 L764.8 178.6 L764.5 178.8 L764.2 179.0 L763.9 179.3 L763.5 179.5 L763.2 179.8 L762.9 180.0 L762.5 180.2 L762.2 180.4 L761.9 180.7 L761.5 180.9 L761.2 181.1 L760.9 181.3 L760.5 181.5 L760.2 181.7 L759.9 181.9 L759.5 182.1 L759.2 182.3 L758.8 182.5 L758.5 182.7 L758.1 182.8 L757.8 183.0 L757.5 183.2 L757.1 183.4 L756.8 183.5 L756.4 183.7 L756.1 183.8 L755.7 184.0 L755.4 184.2 L755.0 184.3 L754.7 184.4 L754.3 184.6 L754.0 184.7 L753.6 184.9 L753.3 185.0 L752.9 185.1 L752.6 185.2 L752.2 185.4 L751.9 185.5 L751.5 185.6 L751.2 185.7 L750.8 185.8 L750.4 185.9 L750.1 186.0 L749.7 186.1 L749.4 186.2 L749.0 186.3 L748.7 186.4 L748.3 186.4 L748.0 186.5 L747.6 186.6 L747.3 186.6 L746.9 186.7 L746.6 186.8 L746.2 186.8 L745.9 186.9 L745.5 186.9 L745.2 187.0 L744.8 187.0 L744.5 187.1 L744.1 187.1 L743.7 187.1 L743.3 187.1 L742.9 187.2 L742.5 187.2 L742.1 187.2 L741.7 187.2 L741.4 187.2 L741.1 187.2 L740.8 187.3 L740.5 187.3Z" fill="#58595b" stroke="none"/>
<path d="M651.25 722.5 L671.25 726.25 L817.5 700 L817.5 688.75 L817.5 688.8 C822.9 691.5 842.9 700.6 850.0 705.0 C857.1 709.4 856.7 709.2 860.0 715.0 C863.3 720.8 866.8 730.8 870.0 740.0 C873.2 749.2 877.2 762.5 879.0 770.0 C880.8 777.5 880.8 779.7 881.0 785.0 C881.2 790.3 880.7 796.7 880.0 802.0 C879.3 807.3 878.6 811.7 876.7 816.7 C874.9 821.7 873.0 826.3 868.9 832.2 C864.8 838.1 859.6 844.8 852.2 852.2 C844.8 859.6 833.6 869.3 824.4 876.7 C815.1 884.1 804.1 891.5 796.7 896.7 C789.3 901.9 789.5 901.4 780.0 907.8 C770.5 914.2 757.0 924.0 740.0 935.0 C723.0 946.0 688.2 967.1 677.8 973.5 L690.3 977 L690.3 977.0 C689.8 978.1 689.6 980.4 687.5 983.9 C685.4 987.4 681.0 991.8 677.8 997.8 C674.5 1003.8 670.5 1012.1 668.0 1020.0 C665.5 1027.9 663.5 1038.3 662.5 1045.0 C661.5 1051.7 662.1 1054.7 662.2 1060.0 C662.3 1065.3 662.4 1071.2 663.3 1076.7 C664.2 1082.2 666.7 1088.3 667.8 1093.3 C668.9 1098.3 670.2 1103.2 670.0 1106.7 C669.8 1110.2 668.6 1112.7 666.7 1114.4 C664.9 1116.2 659.6 1115.7 658.9 1117.2 C658.1 1118.7 661.5 1119.9 662.2 1123.3 C662.9 1126.7 663.5 1133.2 663.3 1137.8 C663.1 1142.4 662.5 1147.3 661.0 1151.0 C659.5 1154.7 657.4 1157.8 654.4 1160.0 C651.4 1162.2 647.4 1163.5 643.3 1164.4 C639.2 1165.3 634.7 1165.8 630.0 1165.6 C625.3 1165.4 620.5 1165.0 615.0 1163.5 C609.5 1162.0 605.9 1160.6 596.7 1156.8 C587.5 1153.0 568.6 1144.4 560.0 1140.5 C551.4 1136.6 549.5 1135.7 545.0 1133.5 C540.5 1131.3 536.6 1130.1 533.0 1127.5 C529.4 1124.9 526.6 1122.6 523.5 1118.0 C520.4 1113.4 517.2 1107.2 514.5 1100.0 C511.8 1092.8 509.2 1084.2 507.0 1075.0 C504.8 1065.8 503.0 1054.7 501.5 1045.0 C500.0 1035.3 498.8 1026.0 498.0 1016.7 C497.2 1007.4 496.8 998.2 496.6 988.9 C496.4 979.6 496.4 970.3 496.6 961.0 C496.8 951.7 497.3 941.6 498.0 933.3 C498.7 925.0 500.3 914.7 500.8 911.0 L560 800 Z" fill="#fff" stroke="none" stroke-width="6.3" stroke-linejoin="round" stroke-linecap="round" />
<path d="M651.2 722.5 L671.2 726.2" fill="none" stroke="#58595b" stroke-width="6.3" stroke-linejoin="round" stroke-linecap="round" />
<path d="M817.5 688.8 C822.9 691.5 842.9 700.6 850.0 705.0 C857.1 709.4 856.7 709.2 860.0 715.0 C863.3 720.8 866.8 730.8 870.0 740.0 C873.2 749.2 877.2 762.5 879.0 770.0 C880.8 777.5 880.8 779.7 881.0 785.0 C881.2 790.3 880.7 796.7 880.0 802.0 C879.3 807.3 878.6 811.7 876.7 816.7 C874.9 821.7 873.0 826.3 868.9 832.2 C864.8 838.1 859.6 844.8 852.2 852.2 C844.8 859.6 833.6 869.3 824.4 876.7 C815.1 884.1 804.1 891.5 796.7 896.7 C789.3 901.9 789.5 901.4 780.0 907.8 C770.5 914.2 757.0 924.0 740.0 935.0 C723.0 946.0 688.2 967.1 677.8 973.5" fill="none" stroke="#58595b" stroke-width="6.3" stroke-linejoin="round" stroke-linecap="round" />
<path d="M690.3 977.0 C689.8 978.1 689.6 980.4 687.5 983.9 C685.4 987.4 681.0 991.8 677.8 997.8 C674.5 1003.8 670.5 1012.1 668.0 1020.0 C665.5 1027.9 663.5 1038.3 662.5 1045.0 C661.5 1051.7 662.1 1054.7 662.2 1060.0 C662.3 1065.3 662.4 1071.2 663.3 1076.7 C664.2 1082.2 666.7 1088.3 667.8 1093.3 C668.9 1098.3 670.2 1103.2 670.0 1106.7 C669.8 1110.2 668.6 1112.7 666.7 1114.4 C664.9 1116.2 659.6 1115.7 658.9 1117.2 C658.1 1118.7 661.5 1119.9 662.2 1123.3 C662.9 1126.7 663.5 1133.2 663.3 1137.8 C663.1 1142.4 662.5 1147.3 661.0 1151.0 C659.5 1154.7 657.4 1157.8 654.4 1160.0 C651.4 1162.2 647.4 1163.5 643.3 1164.4 C639.2 1165.3 634.7 1165.8 630.0 1165.6 C625.3 1165.4 620.5 1165.0 615.0 1163.5 C609.5 1162.0 605.9 1160.6 596.7 1156.8 C587.5 1153.0 568.6 1144.4 560.0 1140.5 C551.4 1136.6 549.5 1135.7 545.0 1133.5 C540.5 1131.3 536.6 1130.1 533.0 1127.5 C529.4 1124.9 526.6 1122.6 523.5 1118.0 C520.4 1113.4 517.2 1107.2 514.5 1100.0 C511.8 1092.8 509.2 1084.2 507.0 1075.0 C504.8 1065.8 503.0 1054.7 501.5 1045.0 C500.0 1035.3 498.8 1026.0 498.0 1016.7 C497.2 1007.4 496.8 998.2 496.6 988.9 C496.4 979.6 496.4 970.3 496.6 961.0 C496.8 951.7 497.3 941.6 498.0 933.3 C498.7 925.0 500.3 914.7 500.8 911.0" fill="none" stroke="#58595b" stroke-width="6.3" stroke-linejoin="round" stroke-linecap="round" />
<path d="M671.5 729.2 L674.9 728.9 L679.1 728.6 L684.1 728.1 L689.7 727.6 L695.7 727.1 L702.1 726.5 L708.8 725.9 L715.5 725.3 L722.1 724.7 L728.5 724.1 L734.6 723.5 L740.3 723.0 L745.6 722.5 L751.0 722.0 L756.3 721.4 L761.5 720.9 L766.7 720.4 L771.8 719.9 L776.8 719.3 L781.7 718.8 L786.5 718.2 L791.2 717.6 L795.8 717.0 L800.2 716.4 L804.6 715.8 L809.1 715.2 L813.6 714.6 L818.0 714.0 L822.2 713.3 L826.4 712.7 L830.3 712.1 L834.0 711.6 L837.3 711.1 L840.3 710.6 L842.9 710.2 L845.0 709.9 L845.0 709.1 L842.8 709.2 L840.2 709.3 L837.2 709.5 L833.8 709.6 L830.1 709.8 L826.1 710.0 L821.9 710.2 L817.6 710.5 L813.2 710.7 L808.7 711.0 L804.2 711.3 L799.8 711.6 L795.3 711.9 L790.7 712.2 L786.0 712.6 L781.1 713.0 L776.2 713.4 L771.2 713.9 L766.1 714.4 L760.9 714.9 L755.7 715.5 L750.4 716.0 L745.1 716.5 L739.7 717.0 L734.1 717.5 L728.0 718.1 L721.5 718.7 L714.9 719.3 L708.2 719.9 L701.6 720.5 L695.2 721.1 L689.1 721.6 L683.5 722.1 L678.6 722.6 L674.3 723.0 L671.0 723.3Z" fill="#58595b" stroke="none"/>
<circle cx="835" cy="777.5" r="14.5" fill="#fff" stroke="#58595b" stroke-width="1.5"/>
<path d="M842.0 761.3 L841.6 761.1 L841.1 761.0 L840.5 760.8 L839.8 760.6 L839.0 760.3 L838.1 760.1 L837.2 759.8 L836.3 759.6 L835.3 759.5 L834.4 759.4 L833.4 759.4 L832.4 759.4 L831.6 759.6 L830.7 759.7 L829.9 759.9 L829.0 760.1 L828.1 760.4 L827.3 760.7 L826.4 761.1 L825.5 761.6 L824.6 762.2 L823.8 762.9 L823.0 763.6 L822.3 764.4 L821.6 765.3 L821.0 766.2 L820.4 767.2 L819.9 768.3 L819.3 769.4 L818.9 770.6 L818.4 771.8 L818.1 773.0 L817.8 774.2 L817.5 775.5 L817.4 776.7 L817.3 778.0 L817.4 779.3 L817.5 780.5 L817.8 781.8 L818.1 783.0 L818.4 784.3 L818.9 785.4 L819.3 786.6 L819.9 787.7 L820.4 788.8 L821.0 789.8 L821.6 790.7 L822.3 791.6 L823.0 792.4 L823.8 793.2 L824.7 793.8 L825.5 794.4 L826.4 794.8 L827.3 795.2 L828.2 795.5 L829.1 795.8 L830.0 796.0 L830.8 796.2 L831.6 796.3 L832.5 796.4 L833.4 796.4 L834.4 796.4 L835.4 796.2 L836.4 796.1 L837.3 795.8 L838.2 795.6 L839.0 795.3 L839.8 795.0 L840.5 794.8 L841.1 794.6 L841.7 794.4 L842.1 794.2 L841.9 792.8 L841.5 792.7 L840.9 792.7 L840.2 792.6 L839.5 792.6 L838.7 792.6 L837.8 792.5 L837.0 792.4 L836.2 792.3 L835.4 792.2 L834.7 792.0 L834.0 791.8 L833.5 791.6 L832.9 791.4 L832.3 791.1 L831.7 790.8 L831.2 790.5 L830.6 790.1 L830.1 789.8 L829.6 789.4 L829.2 789.1 L828.7 788.7 L828.4 788.3 L828.0 787.9 L827.7 787.4 L827.4 786.9 L827.0 786.2 L826.6 785.5 L826.2 784.7 L825.8 783.8 L825.4 782.9 L825.1 782.0 L824.8 781.1 L824.6 780.3 L824.4 779.4 L824.3 778.7 L824.3 778.0 L824.3 777.3 L824.4 776.6 L824.6 775.7 L824.8 774.9 L825.1 774.0 L825.4 773.1 L825.8 772.2 L826.2 771.4 L826.6 770.6 L827.0 769.8 L827.4 769.1 L827.7 768.6 L828.1 768.1 L828.4 767.7 L828.8 767.3 L829.2 766.9 L829.7 766.5 L830.1 766.1 L830.7 765.7 L831.2 765.4 L831.8 765.1 L832.4 764.7 L833.0 764.4 L833.6 764.2 L834.1 763.9 L834.7 763.7 L835.4 763.5 L836.2 763.4 L837.0 763.2 L837.9 763.1 L838.7 763.1 L839.5 763.0 L840.2 762.9 L840.9 762.9 L841.5 762.8 L842.0 762.7Z" fill="#58595b" stroke="none"/>
<path d="M669.0 732.4 L668.5 733.3 L667.9 734.3 L667.3 735.5 L666.6 736.8 L665.8 738.3 L664.9 739.9 L664.0 741.5 L663.0 743.3 L662.1 745.2 L661.1 747.2 L660.1 749.2 L659.1 751.3 L658.2 753.5 L657.2 755.7 L656.1 758.0 L655.1 760.3 L654.0 762.8 L652.9 765.4 L651.8 768.0 L650.7 770.8 L649.5 773.7 L648.3 776.7 L647.1 779.9 L645.9 783.2 L644.6 786.7 L643.3 790.4 L642.0 794.3 L640.7 798.3 L639.3 802.5 L637.9 806.7 L636.6 811.0 L635.2 815.3 L633.8 819.5 L632.5 823.7 L631.1 827.9 L629.8 831.8 L628.5 835.7 L627.2 839.5 L625.8 843.3 L624.4 847.1 L623.1 850.8 L621.7 854.6 L620.4 858.3 L619.1 862.1 L617.8 866.0 L616.6 869.8 L615.4 873.8 L614.4 877.8 L613.3 881.9 L612.4 886.0 L611.5 890.2 L610.7 894.5 L609.9 898.7 L609.1 903.0 L608.4 907.2 L607.6 911.4 L606.9 915.5 L606.2 919.6 L605.5 923.5 L604.8 927.4 L604.1 931.1 L603.4 934.7 L602.7 938.2 L602.0 941.6 L601.3 945.0 L600.6 948.3 L599.9 951.7 L599.3 955.1 L598.6 958.5 L598.0 962.1 L597.4 965.7 L596.8 969.5 L596.2 973.4 L595.6 977.4 L595.0 981.5 L594.4 985.6 L593.9 989.8 L593.3 994.1 L592.8 998.4 L592.3 1002.7 L591.9 1007.0 L591.5 1011.3 L591.1 1015.5 L590.8 1019.8 L590.5 1024.0 L590.2 1028.1 L590.0 1032.3 L589.8 1036.5 L589.6 1040.7 L589.5 1044.9 L589.4 1049.1 L589.4 1053.3 L589.5 1057.5 L589.6 1061.7 L589.8 1066.0 L590.1 1070.2 L590.5 1074.4 L590.9 1078.7 L591.5 1083.1 L592.1 1087.4 L592.8 1091.8 L593.5 1096.1 L594.2 1100.4 L595.0 1104.6 L595.9 1108.7 L596.7 1112.7 L597.5 1116.6 L598.4 1120.3 L599.2 1124.0 L600.2 1127.7 L601.2 1131.5 L602.3 1135.1 L603.4 1138.7 L604.5 1142.1 L605.6 1145.4 L606.6 1148.4 L607.5 1151.2 L608.4 1153.7 L609.1 1155.9 L609.6 1157.6 L610.4 1157.4 L610.0 1155.6 L609.4 1153.4 L608.7 1150.9 L608.0 1148.0 L607.2 1144.9 L606.4 1141.6 L605.5 1138.1 L604.6 1134.5 L603.8 1130.8 L603.0 1127.1 L602.3 1123.4 L601.6 1119.7 L601.0 1115.9 L600.4 1112.0 L599.8 1108.0 L599.3 1103.9 L598.7 1099.7 L598.1 1095.4 L597.6 1091.1 L597.2 1086.8 L596.8 1082.5 L596.4 1078.2 L596.1 1074.0 L595.9 1069.8 L595.7 1065.7 L595.7 1061.6 L595.6 1057.5 L595.7 1053.3 L595.8 1049.2 L595.9 1045.1 L596.0 1041.0 L596.2 1036.8 L596.5 1032.7 L596.7 1028.5 L597.0 1024.4 L597.2 1020.2 L597.6 1016.1 L597.9 1011.9 L598.3 1007.6 L598.8 1003.4 L599.3 999.1 L599.8 994.9 L600.3 990.7 L600.9 986.5 L601.5 982.4 L602.0 978.3 L602.6 974.4 L603.2 970.5 L603.8 966.8 L604.4 963.2 L605.0 959.7 L605.7 956.3 L606.3 952.9 L607.0 949.6 L607.6 946.3 L608.3 942.9 L609.0 939.5 L609.7 936.0 L610.5 932.4 L611.2 928.6 L611.9 924.7 L612.6 920.7 L613.3 916.6 L614.0 912.5 L614.8 908.3 L615.5 904.1 L616.3 899.9 L617.0 895.7 L617.9 891.5 L618.7 887.4 L619.7 883.4 L620.6 879.4 L621.7 875.6 L622.8 871.7 L624.0 868.0 L625.3 864.2 L626.5 860.5 L627.9 856.8 L629.2 853.0 L630.5 849.3 L631.9 845.5 L633.2 841.6 L634.5 837.7 L635.8 833.8 L637.0 829.7 L638.3 825.5 L639.5 821.3 L640.8 817.0 L642.0 812.6 L643.2 808.3 L644.4 804.0 L645.6 799.8 L646.8 795.8 L647.9 791.8 L649.0 788.1 L650.1 784.6 L651.2 781.3 L652.2 778.1 L653.2 775.1 L654.2 772.1 L655.2 769.3 L656.1 766.6 L657.1 764.0 L658.0 761.5 L658.9 759.1 L659.8 756.7 L660.6 754.5 L661.5 752.3 L662.3 750.2 L663.1 748.1 L664.0 746.1 L664.8 744.2 L665.7 742.4 L666.4 740.6 L667.2 739.0 L667.9 737.5 L668.6 736.2 L669.1 734.9 L669.6 733.9 L670.0 733.0Z" fill="#58595b" stroke="none"/>
<path d="M551.8 797.6 C553.1 795.6 555.7 789.0 559.5 785.4 C563.3 781.8 569.6 777.6 574.7 776.3 C579.8 775.0 585.4 775.5 590.0 777.8 C594.6 780.1 599.2 784.6 602.2 790.0 C605.2 795.4 606.9 802.8 608.3 809.9 C609.7 817.0 610.3 823.9 610.6 832.8 C610.9 841.7 610.5 852.1 609.9 863.3 C609.3 874.5 607.9 891.9 606.8 900.0 C605.6 908.1 603.6 910.0 603.0 912.0" fill="none" stroke="#58595b" stroke-width="6.3" stroke-linejoin="round" stroke-linecap="round" />
<path d="M521.8 937.0 C522.9 939.9 526.2 950.2 528.6 954.5 C531.0 958.8 533.4 961.0 536.0 963.0 C538.6 965.0 541.4 966.1 544.2 966.5 C547.0 966.9 550.1 966.2 553.0 965.5 C555.9 964.8 558.5 964.3 561.7 962.3 C564.9 960.3 568.8 956.8 572.0 953.5 C575.2 950.2 578.4 946.7 581.2 942.8 C584.0 938.9 586.7 933.9 589.0 930.0 C591.3 926.1 593.5 922.5 594.8 919.5 C596.1 916.5 596.6 913.2 597.0 912.0" fill="none" stroke="#58595b" stroke-width="6.3" stroke-linejoin="round" stroke-linecap="round" />
<path d="M541.0 754.0 L529.0 797.0" fill="none" stroke="#58595b" stroke-width="6.5" stroke-linejoin="round" stroke-linecap="round" />
<path d="M712.0 316.0 L733.0 329.7 L754.4 352.0 L767.0 347.0 L776.8 363.7 L785.6 392.9 L787.5 417.2 L786.0 441.5 L783.6 458.0 L781.2 461.2 L775.0 490.0 L760.0 517.5 L757.5 525.0 L745.0 546.2 L720.0 571.2 L695.0 590.0 L661.2 606.2 L640.0 612.0 L620.0 608.0 L585.0 597.0 L565.0 588.0 L600.0 500.0Z" fill="#fff" stroke="none" stroke-width="6.3" stroke-linejoin="round" stroke-linecap="round" />
<path d="M774.0 361.0 C774.5 361.4 774.9 358.4 776.8 363.7 C778.7 369.0 783.8 384.0 785.6 392.9 C787.4 401.8 787.4 409.1 787.5 417.2 C787.6 425.3 786.6 434.7 786.0 441.5 C785.4 448.3 784.0 455.2 783.6 458.0 L783.6 458.0 L772.4 450.3" fill="none" stroke="#58595b" stroke-width="6.3" stroke-linejoin="round" stroke-linecap="round" />
<path d="M782.1 458.4 L781.8 459.2 L781.5 460.2 L781.1 461.4 L780.7 462.7 L780.3 464.1 L779.8 465.6 L779.3 467.1 L778.8 468.6 L778.3 470.2 L777.8 471.7 L777.3 473.1 L776.9 474.4 L776.4 475.6 L776.0 476.9 L775.5 478.1 L775.1 479.3 L774.7 480.5 L774.2 481.7 L773.8 482.9 L773.4 484.1 L772.9 485.2 L772.5 486.4 L772.1 487.6 L771.6 488.7 L771.2 489.9 L770.7 491.0 L770.3 492.2 L769.9 493.3 L769.4 494.4 L768.9 495.6 L768.5 496.7 L768.0 497.9 L767.5 499.0 L767.1 500.2 L766.6 501.4 L766.0 502.7 L765.5 504.0 L764.9 505.4 L764.3 506.9 L763.6 508.4 L762.9 510.0 L762.3 511.6 L761.6 513.1 L761.0 514.5 L760.4 515.8 L759.9 517.0 L759.5 518.0 L759.2 518.8 L759.8 519.2 L760.4 518.5 L761.1 517.7 L761.9 516.8 L762.9 515.7 L763.9 514.5 L764.9 513.2 L766.0 511.9 L767.1 510.5 L768.2 509.2 L769.2 507.8 L770.1 506.5 L771.0 505.3 L771.7 504.2 L772.5 503.0 L773.2 501.9 L773.8 500.7 L774.5 499.6 L775.1 498.4 L775.7 497.3 L776.3 496.1 L776.8 494.9 L777.4 493.7 L777.9 492.5 L778.4 491.3 L778.8 490.0 L779.3 488.8 L779.7 487.5 L780.0 486.2 L780.4 484.9 L780.7 483.6 L781.0 482.3 L781.3 481.0 L781.5 479.7 L781.7 478.3 L781.9 477.0 L782.1 475.6 L782.3 474.2 L782.5 472.6 L782.6 471.0 L782.7 469.4 L782.7 467.7 L782.8 466.1 L782.8 464.5 L782.8 463.0 L782.9 461.6 L782.9 460.4 L782.9 459.4 L782.9 458.6Z" fill="#58595b" stroke="none"/>
<path d="M756.5 349.0 L767.0 343.5 L777.0 361.0 L773.5 373.0 L768.5 373.0Z" fill="#58595b" stroke="none" stroke-width="6.3" stroke-linejoin="round" stroke-linecap="round" />
<path d="M761.1 350.7 L761.3 350.1 L761.6 349.3 L762.0 348.4 L762.4 347.5 L762.8 346.4 L763.3 345.3 L763.8 344.1 L764.3 342.9 L764.8 341.7 L765.3 340.4 L765.8 339.2 L766.3 338.0 L766.9 336.8 L767.4 335.4 L768.0 334.0 L768.7 332.5 L769.3 331.0 L769.9 329.6 L770.5 328.1 L771.1 326.8 L771.7 325.5 L772.1 324.4 L772.5 323.4 L772.9 322.7 L772.1 322.3 L771.7 323.0 L771.1 323.8 L770.4 324.8 L769.6 325.9 L768.8 327.2 L767.9 328.4 L767.0 329.8 L766.0 331.1 L765.1 332.4 L764.2 333.7 L763.4 334.9 L762.7 336.0 L761.9 337.1 L761.2 338.2 L760.4 339.3 L759.7 340.4 L758.9 341.5 L758.2 342.5 L757.5 343.5 L756.9 344.5 L756.3 345.4 L755.7 346.1 L755.3 346.8 L754.9 347.3Z" fill="#58595b" stroke="none"/>
<path d="M757.5 525.0 C755.4 528.5 751.2 538.5 745.0 546.2 C738.8 554.0 728.3 564.0 720.0 571.2 C711.7 578.5 704.8 584.2 695.0 590.0 C685.2 595.8 666.9 603.5 661.2 606.2" fill="none" stroke="#58595b" stroke-width="6.3" stroke-linejoin="round" stroke-linecap="round" />
<path d="M543.5 572.4 L466.4 673.0 L500.0 700.0 L530.3 645.3 L566.4 592.5Z" fill="#fff" stroke="none" stroke-width="6.3" stroke-linejoin="round" stroke-linecap="round" />
<path d="M546.5 568.5 L466.4 673.0" fill="none" stroke="#58595b" stroke-width="6.3" stroke-linejoin="round" stroke-linecap="round" />
<path d="M566.4 592.5 L530.3 645.3" fill="none" stroke="#58595b" stroke-width="6.3" stroke-linejoin="round" stroke-linecap="round" />
<path d="M559.3 591.3 L558.6 592.3 L557.6 593.5 L556.6 594.9 L555.3 596.6 L554.0 598.3 L552.6 600.2 L551.1 602.2 L549.6 604.2 L548.0 606.3 L546.5 608.5 L544.9 610.6 L543.4 612.7 L541.8 614.9 L540.0 617.3 L538.1 619.9 L536.2 622.6 L534.2 625.3 L532.2 628.1 L530.3 630.7 L528.5 633.3 L526.8 635.6 L525.3 637.7 L524.1 639.4 L523.1 640.8 L523.5 641.2 L524.7 639.9 L526.1 638.3 L527.8 636.4 L529.7 634.2 L531.8 631.9 L534.0 629.5 L536.2 627.0 L538.5 624.4 L540.7 622.0 L542.8 619.6 L544.8 617.3 L546.6 615.3 L548.4 613.4 L550.1 611.5 L551.9 609.5 L553.7 607.6 L555.4 605.7 L557.1 603.9 L558.7 602.2 L560.2 600.6 L561.6 599.1 L562.8 597.8 L563.8 596.7 L564.7 595.7Z" fill="#58595b" stroke="none"/>
<path d="M624.0 603.0 L614.0 714.0 L637.5 732.0 L650.0 720.0 L657.0 599.0Z" fill="#fff" stroke="none" stroke-width="6.3" stroke-linejoin="round" stroke-linecap="round" />
<path d="M624.5 601.5 L613.8 714.0" fill="none" stroke="#58595b" stroke-width="6.3" stroke-linejoin="round" stroke-linecap="round" />
<path d="M657.0 599.0 L648.5 721.0" fill="none" stroke="#58595b" stroke-width="6.5" stroke-linejoin="round" stroke-linecap="round" />
<path d="M649.5 600.0 L637.5 734.0" fill="none" stroke="#58595b" stroke-width="6.5" stroke-linejoin="round" stroke-linecap="round" />
<path d="M653.6 606.0 L653.2 608.6 L652.7 612.0 L652.1 615.9 L651.5 620.4 L650.8 625.2 L650.1 630.3 L649.4 635.5 L648.7 640.8 L648.0 646.0 L647.3 651.0 L646.8 655.6 L646.2 659.9 L645.7 664.0 L645.2 668.1 L644.7 672.2 L644.2 676.4 L643.7 680.4 L643.3 684.3 L642.8 688.0 L642.4 691.5 L642.1 694.7 L641.8 697.5 L641.5 700.0 L641.3 702.0 L641.7 702.0 L642.0 700.0 L642.4 697.6 L642.8 694.8 L643.3 691.6 L643.8 688.1 L644.4 684.4 L644.9 680.6 L645.5 676.5 L646.1 672.4 L646.7 668.3 L647.2 664.2 L647.8 660.1 L648.3 655.8 L648.9 651.2 L649.5 646.2 L650.2 641.0 L650.8 635.7 L651.4 630.5 L652.0 625.4 L652.5 620.5 L653.0 616.0 L653.4 612.1 L653.8 608.7 L654.0 606.0Z" fill="#fff" stroke="none"/>
<path d="M690.0 311.2 C691.7 311.6 696.7 312.7 700.0 313.6 C703.3 314.5 706.3 315.4 710.0 316.8 C713.7 318.2 718.2 319.9 722.0 322.0 C725.8 324.1 727.6 324.7 733.0 329.7 C738.4 334.7 748.6 344.6 754.4 352.0 C760.2 359.4 764.8 366.8 768.0 374.4 C771.2 382.0 772.7 390.7 773.9 397.8 C775.1 404.9 775.3 410.7 775.3 417.2 C775.3 423.7 774.4 431.2 773.9 436.7 C773.4 442.2 772.6 448.0 772.4 450.3" fill="none" stroke="#58595b" stroke-width="6.3" stroke-linejoin="round" stroke-linecap="round" />
<path d="M757.5 525.0 C756.2 524.1 752.1 520.3 750.0 519.5 C747.9 518.7 747.1 518.7 745.0 520.0 C742.9 521.3 741.7 522.5 737.5 527.5 C733.3 532.5 727.1 542.5 720.0 550.0 C712.9 557.5 703.3 566.2 695.0 572.5 C686.7 578.8 678.3 583.5 670.0 587.5 C661.7 591.5 652.7 593.9 645.0 596.2 C637.3 598.6 627.5 600.6 624.0 601.5" fill="none" stroke="#58595b" stroke-width="6.3" stroke-linejoin="round" stroke-linecap="round" />
<path d="M561.6 588.1 L562.4 588.7 L563.4 589.4 L564.6 590.2 L565.9 591.1 L567.4 592.2 L568.9 593.2 L570.5 594.4 L572.2 595.5 L573.8 596.6 L575.4 597.7 L576.9 598.7 L578.4 599.7 L579.8 600.6 L581.1 601.4 L582.5 602.3 L583.9 603.2 L585.3 604.1 L586.7 605.0 L588.1 605.8 L589.5 606.7 L590.9 607.5 L592.4 608.2 L593.8 609.0 L595.3 609.6 L596.8 610.3 L598.4 610.8 L599.9 611.4 L601.5 611.9 L603.1 612.3 L604.6 612.7 L606.1 613.1 L607.5 613.5 L608.9 613.8 L610.2 614.1 L611.4 614.4 L612.5 614.6 L613.6 614.9 L614.6 615.1 L615.6 615.3 L616.6 615.4 L617.5 615.6 L618.3 615.7 L619.1 615.7 L619.8 615.8 L620.4 615.8 L620.9 615.9 L621.2 615.9 L621.6 616.0 L622.4 607.0 L622.0 607.0 L621.4 607.0 L620.9 606.9 L620.3 606.9 L619.7 606.9 L619.0 606.9 L618.3 606.8 L617.6 606.8 L616.8 606.7 L616.0 606.6 L615.1 606.5 L614.1 606.4 L613.0 606.2 L611.8 606.0 L610.5 605.7 L609.2 605.5 L607.8 605.3 L606.4 605.0 L605.0 604.7 L603.6 604.4 L602.1 604.0 L600.7 603.6 L599.4 603.2 L598.1 602.8 L596.8 602.3 L595.5 601.7 L594.2 601.1 L592.8 600.5 L591.4 599.8 L590.1 599.1 L588.7 598.3 L587.3 597.5 L585.9 596.7 L584.5 595.9 L583.0 595.1 L581.6 594.3 L580.1 593.5 L578.6 592.6 L577.0 591.6 L575.3 590.6 L573.6 589.6 L572.0 588.6 L570.4 587.6 L568.9 586.7 L567.5 585.8 L566.3 585.1 L565.2 584.4 L564.4 583.9Z" fill="#58595b" stroke="none"/>
<ellipse cx="638.8" cy="451.7" rx="151.7" ry="107.1" transform="rotate(-58.55 638.8 451.7)" fill="#fff" stroke="#58595b" stroke-width="6.3"/>
<path d="M352.0 692.1 C348.8 692.3 347.1 692.3 344.7 692.0 C342.4 691.7 340.0 691.1 337.8 690.4 C335.6 689.6 333.4 688.6 331.4 687.3 C329.4 686.1 327.5 684.6 325.8 682.9 C324.0 681.3 322.5 679.4 321.1 677.3 C319.7 675.3 318.5 673.0 317.5 670.7 C316.5 668.3 315.6 665.8 315.0 663.2 C314.4 660.6 314.0 657.8 313.9 655.0 C313.7 652.3 313.7 649.4 314.0 646.6 C314.2 643.7 314.7 640.8 315.4 638.0 C316.1 635.1 317.0 632.3 318.1 629.5 C319.2 626.8 320.5 624.0 321.9 621.5 C323.4 618.9 325.0 616.4 326.8 614.1 C328.6 611.8 330.5 609.6 332.6 607.6 C334.6 605.6 336.8 603.7 339.1 602.1 C341.4 600.5 343.7 599.1 346.1 597.9 C348.5 596.8 351.0 595.8 353.5 595.1 C356.0 594.4 358.5 593.9 361.0 593.7 C363.4 593.5 365.9 593.5 368.3 593.8 C370.6 594.1 373.0 594.7 375.2 595.4 C377.4 596.2 379.6 597.2 381.6 598.5 C383.6 599.7 384.5 600.7 387.2 602.9 C389.9 605.1 394.7 608.1 397.8 611.7 C400.9 615.3 402.3 619.8 406.0 624.2 C409.7 628.6 414.2 633.1 420.0 638.0 C425.8 642.9 434.3 648.9 440.8 653.3 C447.3 657.7 454.7 661.1 458.9 664.4 C463.1 667.6 464.4 669.3 465.8 672.8 C467.2 676.3 467.4 681.1 467.2 685.3 C467.0 689.5 466.5 693.9 464.4 697.8 C462.3 701.7 458.4 706.5 454.7 708.9 C451.0 711.3 445.7 712.0 442.2 712.4 C438.7 712.8 437.6 712.5 433.9 711.0 C430.2 709.5 425.8 706.0 420.0 703.3 C414.2 700.6 406.1 697.1 399.2 695.0 C392.2 692.9 384.1 691.5 378.3 690.8 C372.5 690.1 368.8 690.6 364.4 690.8 C360.0 691.0 355.3 691.9 352.0 692.1Z" fill="#fff" stroke="#58595b" stroke-width="6.3" stroke-linejoin="round" stroke-linecap="round" />
<path d="M383.2 603.0 L383.4 603.1 L383.6 603.3 L383.9 603.5 L384.1 603.7 L384.4 604.0 L384.7 604.2 L385.0 604.5 L385.3 604.7 L385.6 605.0 L385.9 605.2 L386.1 605.5 L386.4 605.7 L386.6 605.9 L386.8 606.2 L387.1 606.4 L387.3 606.7 L387.5 606.9 L387.7 607.2 L388.0 607.4 L388.2 607.7 L388.4 608.0 L388.6 608.2 L388.8 608.5 L389.1 608.8 L389.3 609.0 L389.5 609.3 L389.7 609.6 L389.9 609.9 L390.1 610.2 L390.3 610.4 L390.5 610.7 L390.7 611.0 L390.9 611.3 L391.1 611.6 L391.2 611.9 L391.4 612.2 L391.6 612.5 L391.8 612.8 L392.0 613.1 L392.1 613.5 L392.3 613.8 L392.5 614.1 L392.6 614.4 L392.8 614.7 L393.0 615.1 L393.1 615.4 L393.3 615.7 L393.4 616.0 L393.6 616.4 L393.7 616.7 L393.9 617.1 L394.0 617.4 L394.1 617.7 L394.3 618.1 L394.4 618.4 L394.5 618.8 L394.7 619.1 L394.8 619.5 L394.9 619.9 L395.0 620.2 L395.1 620.6 L395.2 620.9 L395.3 621.3 L395.4 621.7 L395.5 622.0 L395.6 622.4 L395.7 622.8 L395.8 623.1 L395.9 623.5 L396.0 623.9 L396.1 624.3 L396.1 624.6 L396.2 625.0 L396.3 625.4 L396.4 625.8 L396.4 626.2 L396.5 626.6 L396.5 627.0 L396.6 627.3 L396.6 627.7 L396.7 628.1 L396.7 628.5 L396.8 628.9 L396.8 629.3 L396.9 629.7 L396.9 630.1 L397.0 630.5 L397.0 630.9 L397.0 631.3 L397.1 631.7 L397.1 632.1 L397.1 632.5 L397.2 632.9 L397.2 633.3 L397.2 633.7 L397.2 634.1 L397.3 634.5 L397.3 634.9 L397.3 635.4 L397.3 635.8 L397.3 636.2 L397.3 636.6 L397.3 637.0 L397.3 637.4 L397.3 637.8 L397.3 638.3 L397.3 638.7 L397.3 639.1 L397.3 639.5 L397.3 639.9 L397.3 640.4 L397.3 640.8 L397.2 641.2 L397.2 641.6 L397.2 642.1 L397.2 642.5 L397.1 642.9 L397.1 643.3 L397.1 643.8 L397.0 644.2 L397.0 644.6 L397.0 645.0 L396.9 645.5 L396.9 645.9 L396.8 646.3 L396.8 646.8 L396.7 647.2 L396.7 647.6 L396.6 648.1 L396.5 648.5 L396.5 648.9 L396.4 649.4 L396.3 649.8 L396.3 650.3 L396.2 650.8 L396.1 651.3 L396.0 651.8 L395.9 652.3 L395.8 652.8 L395.7 653.2 L395.6 653.6 L395.5 654.0 L395.4 654.3 L395.4 654.6 L395.7 654.7 L395.8 654.5 L396.0 654.2 L396.1 653.8 L396.3 653.4 L396.5 653.0 L396.7 652.6 L396.9 652.1 L397.1 651.6 L397.3 651.1 L397.5 650.7 L397.7 650.2 L397.9 649.8 L398.1 649.3 L398.2 648.9 L398.4 648.5 L398.5 648.1 L398.7 647.6 L398.8 647.2 L398.9 646.8 L399.1 646.4 L399.2 645.9 L399.3 645.5 L399.5 645.1 L399.6 644.6 L399.7 644.2 L399.8 643.8 L399.9 643.3 L400.0 642.9 L400.1 642.5 L400.2 642.0 L400.3 641.6 L400.4 641.2 L400.5 640.7 L400.6 640.3 L400.6 639.8 L400.7 639.4 L400.8 639.0 L400.8 638.5 L400.9 638.1 L401.0 637.6 L401.0 637.2 L401.1 636.8 L401.1 636.3 L401.1 635.9 L401.2 635.4 L401.2 635.0 L401.2 634.6 L401.3 634.1 L401.3 633.7 L401.3 633.3 L401.3 632.8 L401.3 632.4 L401.3 631.9 L401.3 631.5 L401.3 631.1 L401.3 630.6 L401.2 630.2 L401.2 629.8 L401.2 629.3 L401.2 628.9 L401.1 628.5 L401.1 628.0 L401.0 627.6 L401.0 627.2 L400.9 626.8 L400.9 626.3 L400.8 625.9 L400.8 625.5 L400.7 625.1 L400.6 624.6 L400.5 624.2 L400.5 623.8 L400.4 623.4 L400.3 623.0 L400.2 622.6 L400.1 622.2 L400.0 621.7 L399.9 621.3 L399.8 620.9 L399.7 620.5 L399.6 620.1 L399.5 619.7 L399.4 619.3 L399.3 618.9 L399.2 618.5 L399.0 618.1 L398.9 617.7 L398.8 617.3 L398.7 616.9 L398.5 616.5 L398.4 616.2 L398.2 615.8 L398.1 615.4 L398.0 615.0 L397.8 614.6 L397.7 614.2 L397.5 613.9 L397.3 613.5 L397.2 613.1 L397.0 612.7 L396.8 612.4 L396.7 612.0 L396.5 611.6 L396.3 611.3 L396.1 610.9 L396.0 610.6 L395.8 610.2 L395.6 609.9 L395.4 609.5 L395.2 609.2 L395.0 608.8 L394.8 608.5 L394.6 608.1 L394.4 607.8 L394.2 607.4 L394.0 607.1 L393.7 606.8 L393.5 606.4 L393.3 606.1 L393.1 605.8 L392.9 605.5 L392.6 605.1 L392.4 604.8 L392.2 604.5 L391.9 604.2 L391.7 603.9 L391.4 603.6 L391.2 603.3 L390.9 603.0 L390.7 602.7 L390.4 602.4 L390.1 602.1 L389.9 601.8 L389.6 601.5 L389.2 601.1 L388.9 600.8 L388.6 600.5 L388.3 600.2 L388.0 599.9 L387.7 599.7 L387.5 599.4 L387.3 599.2 L387.1 599.1 L386.9 598.9Z" fill="#58595b" stroke="none"/>
<path d="M349.3 695.4 L349.5 695.3 L349.7 695.3 L350.0 695.3 L350.4 695.3 L350.8 695.2 L351.2 695.2 L351.6 695.2 L352.1 695.1 L352.5 695.1 L353.0 695.0 L353.5 695.0 L353.9 694.9 L354.3 694.8 L354.7 694.8 L355.1 694.7 L355.5 694.6 L355.9 694.5 L356.3 694.5 L356.7 694.4 L357.1 694.3 L357.5 694.2 L357.9 694.1 L358.3 694.0 L358.7 693.9 L359.1 693.8 L359.5 693.7 L359.9 693.5 L360.3 693.4 L360.7 693.3 L361.1 693.2 L361.4 693.0 L361.8 692.9 L362.2 692.8 L362.6 692.6 L363.0 692.5 L363.4 692.3 L363.8 692.2 L364.2 692.0 L364.6 691.8 L365.0 691.7 L365.3 691.5 L365.7 691.3 L366.1 691.2 L366.5 691.0 L366.9 690.8 L367.3 690.6 L367.6 690.4 L368.0 690.2 L368.4 690.0 L368.8 689.8 L369.1 689.6 L369.5 689.4 L369.9 689.2 L370.3 689.0 L370.6 688.8 L371.0 688.6 L371.4 688.4 L371.7 688.1 L372.1 687.9 L372.5 687.7 L372.8 687.5 L373.2 687.2 L373.6 687.0 L373.9 686.7 L374.3 686.5 L374.7 686.2 L375.0 686.0 L375.4 685.7 L375.7 685.5 L376.1 685.2 L376.4 685.0 L376.8 684.7 L377.1 684.4 L377.5 684.1 L377.8 683.9 L378.2 683.6 L378.5 683.3 L378.8 683.0 L379.2 682.7 L379.5 682.4 L379.9 682.2 L380.2 681.9 L380.5 681.5 L380.8 681.2 L381.2 680.9 L381.5 680.6 L381.8 680.3 L382.1 680.0 L382.4 679.7 L382.7 679.3 L383.0 679.0 L383.3 678.7 L383.6 678.3 L383.9 678.0 L384.2 677.6 L384.5 677.3 L384.8 676.9 L385.1 676.6 L385.4 676.2 L385.6 675.9 L385.9 675.5 L386.2 675.1 L386.4 674.8 L386.7 674.4 L387.0 674.0 L387.2 673.7 L387.5 673.3 L387.7 672.9 L388.0 672.5 L388.2 672.1 L388.5 671.7 L388.7 671.3 L388.9 671.0 L389.2 670.6 L389.4 670.2 L389.6 669.8 L389.8 669.4 L390.0 669.0 L390.3 668.6 L390.5 668.2 L390.7 667.7 L390.9 667.3 L391.1 666.9 L391.3 666.5 L391.4 666.1 L391.6 665.7 L391.8 665.3 L392.0 664.8 L392.2 664.4 L392.4 664.0 L392.5 663.6 L392.7 663.2 L392.9 662.7 L393.0 662.2 L393.2 661.8 L393.4 661.3 L393.5 660.8 L393.7 660.3 L393.9 659.8 L394.0 659.4 L394.1 658.9 L394.2 658.6 L394.3 658.3 L394.4 658.0 L394.1 657.9 L393.9 658.1 L393.8 658.4 L393.6 658.7 L393.3 659.0 L393.1 659.4 L392.8 659.9 L392.6 660.3 L392.3 660.7 L392.0 661.2 L391.7 661.6 L391.5 662.0 L391.2 662.4 L390.9 662.7 L390.7 663.1 L390.4 663.5 L390.2 663.8 L389.9 664.2 L389.7 664.5 L389.4 664.9 L389.1 665.2 L388.9 665.6 L388.6 665.9 L388.3 666.3 L388.0 666.6 L387.8 666.9 L387.5 667.3 L387.2 667.6 L386.9 667.9 L386.7 668.3 L386.4 668.6 L386.1 668.9 L385.8 669.3 L385.5 669.6 L385.2 669.9 L385.0 670.2 L384.7 670.5 L384.4 670.9 L384.1 671.2 L383.8 671.5 L383.5 671.8 L383.2 672.1 L382.9 672.4 L382.6 672.7 L382.3 673.0 L382.0 673.3 L381.7 673.6 L381.4 673.9 L381.1 674.2 L380.8 674.5 L380.5 674.8 L380.2 675.1 L379.9 675.4 L379.6 675.6 L379.3 675.9 L379.0 676.2 L378.7 676.5 L378.4 676.8 L378.1 677.0 L377.8 677.3 L377.5 677.6 L377.2 677.9 L376.9 678.1 L376.6 678.4 L376.2 678.6 L375.9 678.9 L375.6 679.2 L375.3 679.4 L375.0 679.7 L374.7 679.9 L374.4 680.2 L374.0 680.4 L373.7 680.7 L373.4 680.9 L373.1 681.1 L372.8 681.4 L372.4 681.6 L372.1 681.8 L371.8 682.1 L371.5 682.3 L371.1 682.5 L370.8 682.7 L370.5 682.9 L370.1 683.1 L369.8 683.3 L369.5 683.5 L369.1 683.7 L368.8 683.9 L368.4 684.1 L368.1 684.3 L367.8 684.5 L367.4 684.7 L367.1 684.8 L366.7 685.0 L366.4 685.2 L366.0 685.3 L365.7 685.5 L365.4 685.7 L365.0 685.8 L364.7 686.0 L364.3 686.1 L364.0 686.3 L363.6 686.4 L363.3 686.5 L362.9 686.7 L362.6 686.8 L362.2 686.9 L361.9 687.1 L361.5 687.2 L361.2 687.3 L360.8 687.4 L360.5 687.5 L360.1 687.6 L359.8 687.7 L359.4 687.8 L359.1 687.9 L358.7 688.0 L358.4 688.1 L358.0 688.2 L357.7 688.2 L357.3 688.3 L357.0 688.4 L356.6 688.5 L356.3 688.5 L355.9 688.6 L355.6 688.6 L355.2 688.7 L354.9 688.7 L354.5 688.8 L354.2 688.8 L353.8 688.9 L353.5 688.9 L353.2 688.9 L352.8 689.0 L352.5 689.0 L352.1 689.0 L351.7 689.0 L351.3 689.0 L350.9 689.0 L350.5 689.1 L350.1 689.1 L349.7 689.1 L349.4 689.1 L349.1 689.1 L348.9 689.1Z" fill="#58595b" stroke="none"/>
<path d="M514.1 745.0 C510.2 744.8 509.2 745.1 506.9 744.8 C504.5 744.5 502.2 743.9 500.1 743.1 C497.9 742.3 495.8 741.2 493.9 739.9 C491.9 738.7 490.1 737.2 488.4 735.5 C486.8 733.8 485.3 731.9 484.0 729.8 C482.7 727.7 481.5 725.5 480.6 723.1 C479.7 720.7 479.0 718.2 478.5 715.6 C478.0 712.9 477.6 710.2 477.6 707.4 C477.5 704.7 477.6 701.8 477.9 698.9 C478.3 696.1 478.9 693.2 479.6 690.4 C480.4 687.5 481.4 684.7 482.5 682.0 C483.7 679.2 485.0 676.5 486.5 674.0 C488.1 671.4 489.8 669.0 491.6 666.7 C493.4 664.4 495.4 662.2 497.5 660.2 C499.6 658.3 501.8 656.5 504.1 654.9 C506.4 653.3 508.8 651.9 511.2 650.8 C513.6 649.7 516.1 648.7 518.5 648.1 C521.0 647.4 523.5 647.0 525.9 646.8 C528.3 646.6 530.8 646.7 533.1 647.0 C535.5 647.3 537.8 647.9 539.9 648.7 C542.1 649.5 544.2 650.6 546.1 651.9 C548.1 653.1 549.4 654.6 551.6 656.3 C553.8 658.0 556.7 659.0 559.4 662.0 C562.1 665.0 563.4 669.6 567.8 674.4 C572.2 679.2 578.4 685.0 585.8 691.0 C593.2 697.0 604.8 704.9 612.2 710.6 C619.6 716.4 626.1 721.3 630.0 725.5 C633.9 729.7 634.5 731.6 635.5 736.0 C636.5 740.4 636.9 746.7 636.0 752.0 C635.1 757.3 632.3 764.8 630.0 768.0 C627.7 771.2 624.6 770.6 622.0 771.5 C619.4 772.4 617.8 773.2 614.5 773.2 C611.2 773.2 606.8 773.0 602.2 771.7 C597.6 770.4 594.0 768.8 587.0 765.6 C580.0 762.4 569.5 755.7 560.0 752.5 C550.5 749.3 537.7 747.5 530.0 746.2 C522.3 745.0 517.9 745.2 514.1 745.0Z" fill="#fff" stroke="#58595b" stroke-width="6.3" stroke-linejoin="round" stroke-linecap="round" />
<path d="M547.6 656.4 L547.8 656.5 L548.0 656.7 L548.2 656.9 L548.4 657.1 L548.7 657.4 L549.0 657.6 L549.3 657.9 L549.6 658.1 L549.9 658.4 L550.1 658.6 L550.4 658.9 L550.6 659.1 L550.8 659.3 L551.0 659.6 L551.3 659.8 L551.5 660.1 L551.7 660.3 L551.9 660.6 L552.1 660.8 L552.4 661.1 L552.6 661.4 L552.8 661.6 L553.0 661.9 L553.2 662.2 L553.4 662.4 L553.6 662.7 L553.8 663.0 L554.0 663.3 L554.2 663.6 L554.4 663.9 L554.5 664.2 L554.7 664.5 L554.9 664.8 L555.1 665.1 L555.3 665.4 L555.4 665.7 L555.6 666.0 L555.8 666.3 L555.9 666.6 L556.1 666.9 L556.3 667.2 L556.4 667.5 L556.6 667.9 L556.7 668.2 L556.9 668.5 L557.0 668.9 L557.1 669.2 L557.3 669.5 L557.4 669.9 L557.5 670.2 L557.7 670.5 L557.8 670.9 L557.9 671.2 L558.0 671.6 L558.2 671.9 L558.3 672.3 L558.4 672.6 L558.5 673.0 L558.6 673.4 L558.7 673.7 L558.8 674.1 L558.9 674.4 L559.0 674.8 L559.1 675.2 L559.1 675.5 L559.2 675.9 L559.3 676.3 L559.4 676.7 L559.5 677.0 L559.5 677.4 L559.6 677.8 L559.7 678.2 L559.8 678.6 L559.8 678.9 L559.9 679.3 L560.0 679.7 L560.0 680.1 L560.1 680.5 L560.2 680.9 L560.2 681.3 L560.3 681.6 L560.4 682.0 L560.4 682.4 L560.5 682.8 L560.5 683.2 L560.6 683.6 L560.6 684.0 L560.7 684.4 L560.7 684.8 L560.8 685.2 L560.8 685.6 L560.8 686.0 L560.9 686.5 L560.9 686.9 L560.9 687.3 L561.0 687.7 L561.0 688.1 L561.0 688.5 L561.1 688.9 L561.1 689.4 L561.1 689.8 L561.1 690.2 L561.1 690.6 L561.1 691.0 L561.2 691.5 L561.2 691.9 L561.2 692.3 L561.2 692.7 L561.2 693.2 L561.2 693.7 L561.2 694.1 L561.1 694.7 L561.1 695.2 L561.1 695.7 L561.1 696.1 L561.1 696.6 L561.0 697.0 L561.0 697.4 L561.0 697.7 L561.0 698.0 L561.4 698.0 L561.5 697.8 L561.6 697.5 L561.7 697.1 L561.8 696.7 L562.0 696.3 L562.1 695.8 L562.2 695.4 L562.4 694.9 L562.5 694.4 L562.7 693.9 L562.8 693.4 L562.9 693.0 L563.0 692.5 L563.1 692.1 L563.2 691.7 L563.3 691.2 L563.4 690.8 L563.5 690.4 L563.6 689.9 L563.6 689.5 L563.7 689.1 L563.8 688.6 L563.8 688.2 L563.9 687.8 L564.0 687.3 L564.0 686.9 L564.1 686.5 L564.1 686.0 L564.1 685.6 L564.2 685.2 L564.2 684.7 L564.2 684.3 L564.2 683.9 L564.3 683.5 L564.3 683.0 L564.3 682.6 L564.3 682.2 L564.3 681.7 L564.2 681.3 L564.2 680.9 L564.2 680.4 L564.2 680.0 L564.2 679.6 L564.1 679.2 L564.1 678.7 L564.0 678.3 L564.0 677.9 L563.9 677.5 L563.9 677.1 L563.8 676.7 L563.8 676.2 L563.7 675.8 L563.6 675.4 L563.5 675.0 L563.4 674.6 L563.3 674.2 L563.3 673.8 L563.2 673.4 L563.1 673.0 L562.9 672.6 L562.8 672.2 L562.7 671.8 L562.6 671.4 L562.5 671.0 L562.4 670.6 L562.3 670.2 L562.1 669.8 L562.0 669.4 L561.9 669.0 L561.7 668.7 L561.6 668.3 L561.5 667.9 L561.3 667.5 L561.2 667.1 L561.0 666.8 L560.9 666.4 L560.7 666.0 L560.6 665.7 L560.4 665.3 L560.2 664.9 L560.1 664.6 L559.9 664.2 L559.7 663.8 L559.6 663.5 L559.4 663.1 L559.2 662.8 L559.0 662.4 L558.8 662.1 L558.6 661.7 L558.4 661.4 L558.3 661.1 L558.1 660.7 L557.8 660.4 L557.6 660.0 L557.4 659.7 L557.2 659.4 L557.0 659.1 L556.8 658.7 L556.6 658.4 L556.4 658.1 L556.1 657.8 L555.9 657.5 L555.7 657.2 L555.4 656.8 L555.2 656.5 L555.0 656.2 L554.7 655.9 L554.5 655.6 L554.2 655.3 L553.9 655.0 L553.6 654.7 L553.3 654.3 L553.0 654.0 L552.7 653.7 L552.4 653.4 L552.2 653.2 L551.9 652.9 L551.7 652.7 L551.5 652.5 L551.4 652.4Z" fill="#58595b" stroke="none"/>
<path d="M511.3 748.2 L511.5 748.2 L511.8 748.2 L512.1 748.2 L512.4 748.2 L512.8 748.1 L513.2 748.1 L513.6 748.1 L514.1 748.0 L514.5 748.0 L515.0 747.9 L515.5 747.9 L515.9 747.8 L516.3 747.8 L516.7 747.7 L517.1 747.6 L517.5 747.6 L517.9 747.5 L518.3 747.4 L518.7 747.3 L519.1 747.2 L519.5 747.1 L519.8 747.0 L520.2 746.9 L520.6 746.8 L521.0 746.7 L521.4 746.6 L521.8 746.5 L522.2 746.4 L522.6 746.3 L523.0 746.1 L523.4 746.0 L523.8 745.9 L524.2 745.8 L524.5 745.6 L524.9 745.5 L525.3 745.3 L525.7 745.2 L526.1 745.0 L526.5 744.9 L526.9 744.7 L527.3 744.5 L527.6 744.4 L528.0 744.2 L528.4 744.0 L528.8 743.9 L529.2 743.7 L529.5 743.5 L529.9 743.3 L530.3 743.1 L530.7 742.9 L531.1 742.7 L531.4 742.6 L531.8 742.3 L532.2 742.1 L532.6 741.9 L532.9 741.7 L533.3 741.5 L533.7 741.3 L534.1 741.1 L534.4 740.9 L534.8 740.6 L535.2 740.4 L535.5 740.2 L535.9 739.9 L536.3 739.7 L536.6 739.5 L537.0 739.2 L537.3 739.0 L537.7 738.7 L538.0 738.4 L538.4 738.2 L538.7 737.9 L539.1 737.6 L539.4 737.4 L539.8 737.1 L540.1 736.8 L540.4 736.5 L540.8 736.2 L541.1 735.9 L541.4 735.6 L541.7 735.3 L542.0 735.0 L542.4 734.7 L542.7 734.3 L543.0 734.0 L543.3 733.7 L543.6 733.4 L543.9 733.0 L544.2 732.7 L544.5 732.3 L544.8 732.0 L545.1 731.7 L545.3 731.3 L545.6 731.0 L545.9 730.6 L546.2 730.2 L546.4 729.9 L546.7 729.5 L547.0 729.2 L547.2 728.8 L547.5 728.4 L547.7 728.0 L548.0 727.7 L548.2 727.3 L548.5 726.9 L548.7 726.5 L548.9 726.1 L549.2 725.7 L549.4 725.3 L549.7 724.9 L549.9 724.4 L550.2 724.0 L550.4 723.5 L550.6 723.0 L550.9 722.6 L551.1 722.2 L551.3 721.8 L551.5 721.5 L551.6 721.2 L551.7 720.9 L551.4 720.7 L551.2 720.9 L551.0 721.1 L550.7 721.4 L550.4 721.7 L550.1 722.1 L549.8 722.4 L549.4 722.8 L549.0 723.1 L548.7 723.5 L548.3 723.9 L548.0 724.2 L547.6 724.5 L547.3 724.8 L547.0 725.1 L546.7 725.4 L546.4 725.7 L546.0 726.0 L545.7 726.3 L545.4 726.6 L545.1 726.9 L544.7 727.1 L544.4 727.4 L544.1 727.7 L543.8 728.0 L543.4 728.2 L543.1 728.5 L542.8 728.8 L542.4 729.0 L542.1 729.3 L541.8 729.6 L541.4 729.8 L541.1 730.1 L540.8 730.3 L540.5 730.6 L540.1 730.8 L539.8 731.1 L539.5 731.3 L539.1 731.6 L538.8 731.8 L538.5 732.1 L538.1 732.3 L537.8 732.6 L537.5 732.8 L537.1 733.0 L536.8 733.3 L536.5 733.5 L536.1 733.7 L535.8 733.9 L535.5 734.2 L535.1 734.4 L534.8 734.6 L534.5 734.8 L534.2 735.1 L533.8 735.3 L533.5 735.5 L533.2 735.7 L532.8 735.9 L532.5 736.1 L532.2 736.3 L531.8 736.5 L531.5 736.7 L531.1 736.9 L530.8 737.1 L530.5 737.3 L530.1 737.5 L529.8 737.7 L529.4 737.8 L529.1 738.0 L528.8 738.2 L528.4 738.4 L528.1 738.5 L527.7 738.7 L527.4 738.8 L527.0 739.0 L526.7 739.1 L526.3 739.3 L526.0 739.4 L525.6 739.5 L525.3 739.7 L524.9 739.8 L524.6 739.9 L524.3 740.1 L523.9 740.2 L523.6 740.3 L523.2 740.4 L522.9 740.5 L522.5 740.6 L522.2 740.7 L521.8 740.8 L521.5 740.9 L521.1 741.0 L520.8 741.1 L520.4 741.1 L520.1 741.2 L519.7 741.3 L519.4 741.4 L519.0 741.4 L518.7 741.5 L518.3 741.5 L518.0 741.6 L517.6 741.7 L517.3 741.7 L516.9 741.7 L516.6 741.8 L516.3 741.8 L515.9 741.9 L515.6 741.9 L515.2 741.9 L514.9 741.9 L514.5 741.9 L514.2 742.0 L513.8 742.0 L513.4 742.0 L513.0 742.0 L512.6 742.0 L512.2 742.0 L511.9 742.0 L511.5 741.9 L511.3 741.9 L511.0 741.9Z" fill="#58595b" stroke="none"/>
<path d="M461.5 706.0 L470.0 710.5" fill="none" stroke="#58595b" stroke-width="4" stroke-linejoin="round" stroke-linecap="round" />
<path d="M450.0 760.0 C451.0 759.7 450.2 758.8 455.0 758.8 C459.8 758.7 481.1 758.7 486.2 759.4 C491.4 760.1 492.1 762.0 493.8 763.8 C495.4 765.5 496.9 769.7 498.8 772.5 C500.6 775.3 504.7 782.2 507.5 785.0 C510.3 787.8 515.3 791.8 520.0 793.8 C524.7 795.8 537.2 798.8 542.5 800.0 C547.8 801.2 552.1 801.2 560.0 802.5 C567.9 803.8 596.0 808.1 602.0 809.6 C608.0 811.1 604.7 807.0 605.0 813.8 C605.3 820.5 604.5 847.2 604.0 860.0 C603.5 872.8 603.2 902.7 601.0 909.6 C598.8 916.5 589.9 910.3 587.5 911.7 C585.1 913.1 584.7 917.1 583.3 920.0 C581.9 922.9 579.5 930.2 577.2 933.3 C574.9 936.4 571.0 942.1 566.0 943.0 C561.0 943.9 544.9 941.2 539.7 940.3 C534.5 939.4 529.6 937.7 527.2 936.0 C524.8 934.3 523.6 930.4 521.7 927.8 C519.8 925.2 515.9 919.5 513.3 916.7 C510.7 913.9 505.9 909.3 502.2 906.9 C498.5 904.5 489.9 900.8 485.6 898.6 C481.3 896.4 473.6 893.1 470.3 890.3 C467.0 887.5 462.6 881.3 460.6 877.8 C458.6 874.3 456.2 867.3 455.0 863.9 C453.8 860.5 452.4 855.7 451.2 852.5 C450.1 849.3 447.8 843.3 446.2 840.0 C444.8 836.7 442.2 830.5 440.0 827.5 C437.8 824.5 432.3 819.8 430.0 817.5 C427.7 815.2 423.3 812.0 422.5 810.0 C421.7 808.0 421.6 807.2 423.8 802.5 C425.9 797.8 435.6 780.5 438.8 775.0 C441.9 769.5 446.0 763.2 447.5 761.2 C449.0 759.2 449.0 760.3 450.0 760.0Z" fill="#b8babd" stroke="#58595b" stroke-width="6.3" stroke-linejoin="round" stroke-linecap="round" />
<path d="M468.5 830.5 L490.5 816.5 L508.5 835.0 L504.0 870.5 L481.9 885.0 L465.0 863.0Z" fill="none" stroke="#58595b" stroke-width="5" stroke-linejoin="round" stroke-linecap="round" />
<path d="M451.7 762.3 L451.9 762.5 L452.2 762.6 L452.4 762.8 L452.6 762.9 L452.9 763.1 L453.1 763.3 L453.4 763.6 L453.8 764.0 L454.2 764.4 L454.6 765.0 L455.2 765.7 L455.7 766.6 L456.3 767.7 L457.0 769.0 L457.7 770.5 L458.4 772.1 L459.2 773.8 L460.1 775.7 L461.0 777.5 L461.9 779.4 L462.9 781.2 L464.0 782.9 L465.2 784.5 L466.5 786.0 L467.8 787.4 L469.2 788.6 L470.7 789.9 L472.3 791.1 L473.9 792.2 L475.5 793.3 L477.2 794.3 L478.9 795.2 L480.6 796.1 L482.3 796.9 L483.9 797.6 L485.6 798.2 L487.3 798.8 L489.1 799.1 L490.9 799.3 L492.6 799.4 L494.3 799.5 L495.9 799.5 L497.5 799.4 L499.0 799.4 L500.3 799.5 L501.6 799.6 L502.7 799.8 L503.6 800.1 L504.5 800.5 L505.4 800.9 L506.3 801.4 L507.0 801.9 L507.7 802.5 L508.4 803.1 L509.1 803.8 L509.7 804.5 L510.4 805.3 L511.0 806.1 L511.7 807.1 L512.3 808.0 L512.9 809.0 L513.5 810.1 L514.1 811.3 L514.6 812.6 L515.2 814.0 L515.7 815.4 L516.2 816.8 L516.7 818.3 L517.2 819.7 L517.7 821.2 L518.2 822.6 L518.7 824.0 L519.1 825.4 L519.5 826.7 L519.9 828.0 L520.3 829.3 L520.6 830.7 L520.9 832.0 L521.3 833.4 L521.7 834.8 L522.1 836.3 L522.5 837.7 L523.0 839.2 L523.6 840.7 L524.3 842.3 L524.9 843.9 L525.7 845.4 L526.4 847.1 L527.2 848.7 L528.1 850.3 L528.9 851.9 L529.7 853.5 L530.6 855.1 L531.4 856.7 L532.2 858.2 L533.0 859.6 L533.8 861.0 L534.6 862.4 L535.4 863.8 L536.2 865.2 L537.0 866.5 L537.8 867.9 L538.6 869.2 L539.4 870.4 L540.2 871.6 L541.0 872.8 L541.8 873.9 L542.6 874.9 L543.4 875.9 L544.3 876.9 L545.2 877.8 L546.1 878.7 L547.0 879.5 L547.9 880.3 L548.7 881.0 L549.5 881.6 L550.3 882.2 L550.9 882.7 L551.5 883.2 L551.9 883.6 L552.5 883.0 L552.1 882.6 L551.5 882.1 L550.9 881.5 L550.2 880.8 L549.5 880.1 L548.7 879.4 L547.9 878.6 L547.1 877.7 L546.3 876.8 L545.5 875.8 L544.7 874.9 L544.0 873.9 L543.3 872.8 L542.6 871.7 L542.0 870.5 L541.3 869.3 L540.6 868.0 L539.9 866.7 L539.2 865.3 L538.5 863.9 L537.8 862.5 L537.1 861.1 L536.4 859.7 L535.8 858.2 L535.1 856.7 L534.3 855.2 L533.6 853.6 L532.9 852.0 L532.1 850.4 L531.4 848.7 L530.7 847.1 L530.0 845.5 L529.3 843.9 L528.7 842.3 L528.1 840.7 L527.6 839.3 L527.1 837.8 L526.7 836.5 L526.3 835.1 L526.0 833.7 L525.7 832.3 L525.4 831.0 L525.1 829.6 L524.8 828.2 L524.5 826.8 L524.1 825.4 L523.7 824.0 L523.3 822.6 L522.8 821.1 L522.4 819.7 L521.9 818.2 L521.4 816.7 L520.9 815.2 L520.4 813.7 L519.8 812.2 L519.2 810.7 L518.6 809.3 L518.0 807.9 L517.2 806.6 L516.5 805.4 L515.8 804.3 L515.0 803.2 L514.3 802.2 L513.5 801.3 L512.7 800.4 L511.8 799.5 L510.9 798.7 L509.9 797.9 L508.8 797.3 L507.7 796.6 L506.5 796.0 L505.2 795.5 L503.7 795.1 L502.1 794.9 L500.6 794.8 L499.0 794.8 L497.4 794.8 L495.8 794.9 L494.2 795.0 L492.7 795.0 L491.2 795.0 L489.7 794.8 L488.3 794.6 L486.9 794.3 L485.4 793.8 L483.9 793.2 L482.2 792.5 L480.6 791.8 L479.0 791.0 L477.4 790.1 L475.7 789.2 L474.2 788.3 L472.6 787.3 L471.2 786.2 L469.8 785.1 L468.5 784.0 L467.3 782.8 L466.2 781.4 L465.0 779.8 L463.9 778.2 L462.9 776.5 L461.9 774.7 L460.9 773.0 L460.0 771.3 L459.1 769.7 L458.3 768.3 L457.5 767.0 L456.8 765.9 L456.1 765.0 L455.5 764.3 L455.0 763.7 L454.5 763.2 L454.1 762.9 L453.7 762.6 L453.4 762.4 L453.1 762.2 L452.8 762.1 L452.6 761.9 L452.4 761.8 L452.3 761.7Z" fill="#58595b" stroke="none"/>
<path d="M452.7 776.3 L452.8 776.4 L452.9 776.5 L453.0 776.7 L453.1 776.8 L453.3 777.0 L453.4 777.3 L453.6 777.5 L453.9 777.9 L454.2 778.4 L454.7 778.9 L455.2 779.6 L455.8 780.4 L456.5 781.3 L457.3 782.5 L458.2 783.9 L459.2 785.4 L460.3 786.9 L461.4 788.6 L462.6 790.2 L463.8 791.8 L465.1 793.4 L466.5 794.9 L467.9 796.2 L469.3 797.3 L470.9 798.2 L472.6 799.0 L474.3 799.7 L476.2 800.3 L478.0 800.8 L479.9 801.2 L481.7 801.6 L483.5 801.9 L485.2 802.3 L486.8 802.6 L488.3 802.9 L489.6 803.2 L490.9 803.5 L492.1 803.7 L493.2 803.9 L494.2 804.0 L495.2 804.2 L496.0 804.3 L496.8 804.4 L497.5 804.5 L498.2 804.7 L498.8 804.9 L499.4 805.1 L500.1 805.5 L500.8 805.9 L501.4 806.3 L502.1 806.8 L502.7 807.3 L503.3 807.9 L503.9 808.4 L504.5 809.1 L505.0 809.8 L505.6 810.5 L506.1 811.3 L506.6 812.2 L507.1 813.1 L507.6 814.1 L508.1 815.2 L508.6 816.4 L509.0 817.7 L509.4 819.1 L509.9 820.5 L510.3 821.9 L510.7 823.4 L511.2 824.9 L511.6 826.4 L512.1 828.0 L512.5 829.5 L513.0 831.0 L513.4 832.5 L513.9 834.0 L514.3 835.6 L514.8 837.2 L515.3 838.8 L515.7 840.4 L516.2 842.0 L516.7 843.6 L517.3 845.2 L517.8 846.8 L518.4 848.4 L519.0 849.9 L519.6 851.5 L520.3 853.0 L520.9 854.6 L521.6 856.1 L522.3 857.6 L523.0 859.2 L523.8 860.6 L524.5 862.1 L525.2 863.5 L526.0 864.9 L526.7 866.2 L527.5 867.5 L528.2 868.7 L529.0 869.9 L529.8 871.1 L530.6 872.3 L531.4 873.4 L532.2 874.5 L533.0 875.5 L533.8 876.5 L534.6 877.5 L535.3 878.4 L536.1 879.4 L536.8 880.3 L537.6 881.2 L538.4 882.1 L539.2 882.9 L539.9 883.8 L540.7 884.6 L541.4 885.3 L542.1 886.0 L542.7 886.6 L543.3 887.2 L543.7 887.7 L544.1 888.1 L544.7 887.5 L544.3 887.1 L543.9 886.6 L543.4 886.0 L542.8 885.3 L542.2 884.6 L541.5 883.8 L540.8 883.0 L540.1 882.1 L539.4 881.2 L538.7 880.3 L538.0 879.4 L537.3 878.4 L536.7 877.5 L536.0 876.5 L535.3 875.5 L534.5 874.4 L533.8 873.3 L533.1 872.2 L532.4 871.1 L531.6 869.9 L530.9 868.7 L530.2 867.5 L529.6 866.3 L528.9 865.0 L528.3 863.7 L527.6 862.3 L527.0 860.9 L526.3 859.4 L525.7 858.0 L525.1 856.5 L524.5 854.9 L523.9 853.4 L523.3 851.8 L522.7 850.3 L522.1 848.7 L521.6 847.2 L521.1 845.7 L520.6 844.1 L520.2 842.6 L519.7 841.0 L519.3 839.4 L518.9 837.8 L518.4 836.2 L518.0 834.6 L517.6 833.0 L517.2 831.4 L516.7 829.8 L516.3 828.3 L515.8 826.8 L515.4 825.3 L515.0 823.8 L514.6 822.3 L514.1 820.8 L513.7 819.3 L513.3 817.9 L512.8 816.4 L512.3 815.1 L511.8 813.7 L511.2 812.5 L510.7 811.3 L510.0 810.2 L509.4 809.2 L508.8 808.2 L508.1 807.4 L507.4 806.5 L506.7 805.8 L506.0 805.0 L505.2 804.4 L504.4 803.8 L503.6 803.2 L502.8 802.7 L501.9 802.1 L501.0 801.7 L500.1 801.3 L499.1 801.1 L498.2 800.9 L497.4 800.7 L496.5 800.6 L495.6 800.6 L494.7 800.5 L493.7 800.4 L492.7 800.3 L491.6 800.1 L490.4 799.8 L489.0 799.5 L487.4 799.3 L485.7 799.1 L484.0 798.8 L482.3 798.6 L480.5 798.3 L478.7 797.9 L476.9 797.6 L475.2 797.1 L473.6 796.6 L472.0 795.9 L470.7 795.2 L469.3 794.3 L468.0 793.2 L466.7 791.9 L465.3 790.5 L464.0 789.1 L462.8 787.5 L461.6 786.0 L460.4 784.5 L459.4 783.1 L458.4 781.7 L457.5 780.6 L456.7 779.6 L456.0 778.9 L455.5 778.3 L455.0 777.7 L454.6 777.3 L454.3 777.0 L454.1 776.7 L453.9 776.5 L453.8 776.3 L453.7 776.2 L453.6 776.0 L453.4 775.9 L453.3 775.7Z" fill="#58595b" stroke="none"/>
<path d="M558.5 834.6 L558.8 835.1 L559.1 835.9 L559.5 836.7 L559.9 837.6 L560.4 838.6 L560.8 839.7 L561.3 840.8 L561.8 841.9 L562.2 843.0 L562.6 844.0 L563.0 845.1 L563.2 846.0 L563.5 846.9 L563.7 847.9 L563.8 848.8 L564.0 849.7 L564.1 850.7 L564.2 851.7 L564.3 852.6 L564.4 853.5 L564.5 854.4 L564.6 855.3 L564.7 856.2 L564.7 857.0 L564.8 857.8 L564.9 858.6 L565.0 859.4 L565.0 860.1 L565.1 860.8 L565.1 861.5 L565.2 862.2 L565.2 862.8 L565.2 863.4 L565.3 863.9 L565.3 864.4 L565.3 864.7 L570.3 864.1 L570.2 863.7 L570.1 863.3 L570.0 862.8 L569.9 862.2 L569.8 861.6 L569.7 860.9 L569.5 860.2 L569.4 859.5 L569.2 858.7 L569.0 857.9 L568.8 857.1 L568.7 856.4 L568.5 855.6 L568.3 854.8 L568.1 853.9 L567.9 853.0 L567.7 852.0 L567.4 851.1 L567.2 850.1 L566.9 849.1 L566.6 848.1 L566.3 847.1 L565.9 846.2 L565.6 845.2 L565.1 844.2 L564.6 843.2 L564.0 842.1 L563.4 841.1 L562.8 840.0 L562.2 839.0 L561.6 838.0 L561.0 837.0 L560.4 836.2 L560.0 835.4 L559.6 834.7 L559.3 834.2Z" fill="#58595b" stroke="none"/>
<path d="M567.8 864.4 C569.3 866.1 573.4 871.2 576.7 874.4 C580.0 877.5 585.0 880.9 587.8 883.3 C590.6 885.7 592.2 886.7 593.3 888.9 C594.4 891.1 594.8 893.6 594.4 896.7 C594.0 899.9 591.4 905.4 591.0 907.8 C590.6 910.2 592.0 910.5 592.2 911.0" fill="none" stroke="#58595b" stroke-width="5" stroke-linejoin="round" stroke-linecap="round" />
<path d="M561.0 885.9 L561.6 886.0 L562.3 886.2 L563.1 886.3 L564.1 886.5 L565.1 886.7 L566.2 886.9 L567.3 887.1 L568.4 887.3 L569.6 887.4 L570.7 887.6 L571.8 887.7 L572.9 887.8 L573.9 887.9 L575.0 888.0 L576.2 888.1 L577.4 888.1 L578.7 888.2 L579.9 888.2 L581.1 888.2 L582.2 888.2 L583.2 888.2 L584.1 888.1 L584.9 888.1 L585.6 888.1 L585.6 887.5 L585.0 887.3 L584.3 887.1 L583.4 886.8 L582.4 886.5 L581.3 886.2 L580.2 885.9 L579.0 885.6 L577.8 885.3 L576.6 885.1 L575.4 884.9 L574.2 884.7 L573.1 884.6 L572.1 884.5 L570.9 884.5 L569.8 884.5 L568.6 884.5 L567.4 884.6 L566.3 884.7 L565.2 884.8 L564.1 884.9 L563.2 885.0 L562.3 885.1 L561.6 885.2 L561.0 885.3Z" fill="#58595b" stroke="none"/>
<path d="M558.9 893.6 L559.5 893.8 L560.4 893.9 L561.4 894.2 L562.5 894.4 L563.7 894.6 L564.9 894.9 L566.3 895.1 L567.6 895.4 L569.0 895.6 L570.3 895.8 L571.6 896.0 L572.8 896.2 L574.0 896.4 L575.3 896.5 L576.7 896.7 L578.2 896.9 L579.6 897.0 L581.1 897.1 L582.4 897.2 L583.8 897.3 L585.0 897.4 L586.1 897.4 L587.0 897.5 L587.7 897.5 L587.9 896.9 L587.2 896.7 L586.3 896.4 L585.3 896.0 L584.1 895.6 L582.8 895.2 L581.5 894.7 L580.1 894.3 L578.7 893.9 L577.3 893.6 L575.9 893.3 L574.5 893.0 L573.2 892.8 L572.0 892.7 L570.6 892.6 L569.2 892.5 L567.8 892.5 L566.5 892.5 L565.1 892.6 L563.8 892.6 L562.6 892.7 L561.5 892.8 L560.5 892.9 L559.6 893.0 L558.9 893.0Z" fill="#58595b" stroke="none"/>
<path d="M551.8 880.1 L551.9 880.6 L552.0 881.2 L552.2 881.8 L552.4 882.6 L552.6 883.4 L552.8 884.2 L552.9 885.1 L553.1 886.0 L553.1 887.0 L553.2 887.9 L553.1 888.9 L553.0 889.9 L552.8 891.0 L552.5 892.1 L552.1 893.4 L551.7 894.7 L551.3 896.1 L550.8 897.5 L550.3 899.0 L549.8 900.4 L549.3 901.9 L548.8 903.3 L548.3 904.6 L547.9 905.9 L547.4 907.2 L547.0 908.5 L546.5 909.7 L546.0 911.0 L545.5 912.2 L545.0 913.5 L544.5 914.7 L544.0 915.8 L543.5 917.0 L543.0 918.1 L542.5 919.2 L542.0 920.2 L541.5 921.1 L540.9 922.1 L540.3 923.1 L539.7 924.0 L539.0 924.9 L538.4 925.8 L537.7 926.6 L537.1 927.4 L536.6 928.1 L536.1 928.7 L535.6 929.3 L535.3 929.7 L535.9 930.3 L536.3 929.9 L536.8 929.5 L537.4 928.9 L538.1 928.4 L538.9 927.7 L539.7 927.0 L540.5 926.3 L541.4 925.5 L542.2 924.6 L543.1 923.7 L543.9 922.8 L544.6 921.8 L545.3 920.8 L546.0 919.8 L546.7 918.7 L547.4 917.6 L548.1 916.4 L548.7 915.2 L549.3 914.0 L550.0 912.7 L550.5 911.4 L551.1 910.1 L551.6 908.8 L552.1 907.5 L552.6 906.1 L553.1 904.7 L553.5 903.2 L553.9 901.7 L554.3 900.2 L554.7 898.6 L555.0 897.1 L555.3 895.6 L555.5 894.1 L555.7 892.7 L555.8 891.4 L555.8 890.1 L555.8 888.9 L555.6 887.7 L555.4 886.6 L555.1 885.6 L554.7 884.6 L554.4 883.7 L554.0 882.9 L553.6 882.1 L553.3 881.4 L553.0 880.8 L552.8 880.3 L552.6 879.9Z" fill="#58595b" stroke="none"/>
<path d="M545.3 900.9 L545.0 901.5 L544.6 902.3 L544.2 903.3 L543.7 904.4 L543.1 905.5 L542.5 906.7 L541.9 908.0 L541.2 909.3 L540.5 910.5 L539.8 911.8 L539.1 912.9 L538.3 914.0 L537.5 915.1 L536.6 916.2 L535.7 917.3 L534.6 918.4 L533.6 919.5 L532.5 920.6 L531.5 921.7 L530.5 922.7 L529.5 923.6 L528.6 924.5 L527.8 925.2 L527.0 925.9 L526.5 926.4 L525.9 926.8 L525.5 927.0 L525.1 927.2 L524.8 927.4 L524.5 927.5 L524.2 927.5 L524.0 927.6 L523.7 927.6 L523.4 927.7 L523.1 927.7 L522.8 927.8 L523.8 930.2 L523.9 930.1 L524.0 930.1 L524.2 930.0 L524.5 930.0 L524.8 929.9 L525.2 929.8 L525.7 929.6 L526.2 929.3 L526.7 929.0 L527.3 928.6 L527.9 928.1 L528.6 927.5 L529.3 926.8 L530.1 926.0 L530.9 925.1 L531.9 924.1 L532.9 923.0 L533.9 921.9 L534.9 920.7 L535.9 919.5 L536.9 918.3 L537.8 917.1 L538.7 915.9 L539.5 914.8 L540.2 913.6 L540.9 912.4 L541.6 911.1 L542.2 909.8 L542.8 908.4 L543.4 907.1 L543.9 905.9 L544.4 904.7 L544.8 903.6 L545.2 902.6 L545.6 901.8 L545.9 901.1Z" fill="#58595b" stroke="none"/>
<defs><linearGradient id="fg" gradientUnits="userSpaceOnUse" x1="670" y1="1060" x2="830" y2="1000"><stop offset="0" stop-color="#e9e9ea"/><stop offset="0.55" stop-color="#dcddde"/><stop offset="1" stop-color="#c9cacc"/></linearGradient></defs>
<path d="M880.0 816.7 C880.7 821.7 882.6 836.2 884.4 846.7 C886.2 857.2 888.8 868.9 891.0 880.0 C893.2 891.1 896.0 900.0 897.8 913.3 C899.6 926.6 901.2 944.9 902.0 960.0 C902.8 975.1 903.0 989.2 902.8 1003.8 C902.6 1018.3 902.2 1034.1 900.6 1047.5 C899.0 1060.9 896.7 1073.1 893.3 1084.0 C889.9 1094.9 885.5 1104.5 880.2 1113.0 C874.9 1121.5 868.0 1129.2 861.2 1135.0 C854.5 1140.8 846.7 1144.6 839.4 1148.0 C832.1 1151.4 824.6 1154.1 817.5 1155.4 C810.4 1156.7 800.4 1155.9 797.0 1156.0 L773.75 1146.7 L744.6 1133.5 L770 1100 L800 1040 L825 960 L845 870 L868.9 832.2 Z" fill="#babcbf" stroke="none" stroke-width="6.3" stroke-linejoin="round" stroke-linecap="round" />
<path d="M823.3 979.0 C825.2 980.7 831.6 984.9 835.0 989.0 C838.4 993.1 841.6 997.6 843.8 1003.8 C845.9 1009.9 847.5 1018.3 848.0 1025.6 C848.5 1032.9 847.9 1040.2 846.7 1047.5 C845.5 1054.8 843.5 1062.8 840.8 1069.4 C838.1 1076.0 834.7 1081.8 830.6 1086.9 C826.5 1092.0 821.1 1096.6 816.0 1100.0 C810.9 1103.4 802.7 1106.1 800.0 1107.3L797.0 1097.8 C798.5 1097.2 802.1 1096.5 805.8 1094.2 C809.5 1091.9 815.1 1088.4 819.0 1084.0 C822.9 1079.6 826.5 1074.0 829.2 1067.9 C831.9 1061.8 834.0 1054.5 835.0 1047.5 C836.0 1040.5 836.0 1032.4 835.0 1025.6 C834.0 1018.8 831.6 1012.1 829.2 1006.7 C826.8 1001.4 821.9 995.7 820.4 993.5Z" fill="#d0d1d3" stroke="none" stroke-width="6.3" stroke-linejoin="round" stroke-linecap="round" />
<path d="M779.6 1092.7 L797.0 1097.8 L800.0 1107.3 L775.2 1101.5Z" fill="#d0d1d3" stroke="none" stroke-width="6.3" stroke-linejoin="round" stroke-linecap="round" />
<path d="M823.3 979.0 C825.2 980.7 831.6 984.9 835.0 989.0 C838.4 993.1 841.6 997.6 843.8 1003.8 C845.9 1009.9 847.5 1018.3 848.0 1025.6 C848.5 1032.9 847.9 1040.2 846.7 1047.5 C845.5 1054.8 843.5 1062.8 840.8 1069.4 C838.1 1076.0 834.7 1081.8 830.6 1086.9 C826.5 1092.0 821.1 1096.6 816.0 1100.0 C810.9 1103.4 802.7 1106.1 800.0 1107.3" fill="none" stroke="#58595b" stroke-width="6.3" stroke-linejoin="round" stroke-linecap="round" />
<path d="M820.4 993.5 C821.9 995.7 826.8 1001.4 829.2 1006.7 C831.6 1012.1 834.0 1018.8 835.0 1025.6 C836.0 1032.4 836.0 1040.5 835.0 1047.5 C834.0 1054.5 831.9 1061.8 829.2 1067.9 C826.5 1074.0 822.9 1079.6 819.0 1084.0 C815.1 1088.4 809.5 1091.9 805.8 1094.2 C802.1 1096.5 798.5 1097.2 797.0 1097.8" fill="none" stroke="#58595b" stroke-width="6.3" stroke-linejoin="round" stroke-linecap="round" />
<path d="M779.6 1092.7 L797.0 1097.8" fill="none" stroke="#58595b" stroke-width="6.3" stroke-linejoin="round" stroke-linecap="round" />
<path d="M775.2 1101.5 L795.6 1107.3 L800.0 1107.3" fill="none" stroke="#58595b" stroke-width="5" stroke-linejoin="round" stroke-linecap="round" />
<path d="M797.0 1097.8 L799.0 1107.0" fill="none" stroke="#58595b" stroke-width="3" stroke-linejoin="round" stroke-linecap="round" />
<path d="M794.9 1107.3 L794.8 1108.4 L794.7 1109.8 L794.5 1111.4 L794.4 1113.1 L794.2 1115.1 L794.0 1117.1 L793.9 1119.2 L793.7 1121.4 L793.6 1123.6 L793.6 1125.8 L793.5 1128.0 L793.5 1130.0 L793.5 1132.2 L793.6 1134.5 L793.7 1136.9 L793.9 1139.4 L794.1 1141.9 L794.4 1144.4 L794.7 1146.8 L795.1 1149.1 L795.4 1151.2 L795.8 1153.1 L796.0 1154.7 L796.3 1156.0 L797.7 1156.0 L798.0 1154.7 L798.3 1153.1 L798.6 1151.3 L799.0 1149.1 L799.3 1146.9 L799.7 1144.4 L800.0 1141.9 L800.2 1139.4 L800.4 1136.9 L800.5 1134.4 L800.5 1132.1 L800.5 1130.0 L800.4 1127.9 L800.3 1125.7 L800.1 1123.5 L799.9 1121.3 L799.6 1119.1 L799.4 1116.9 L799.1 1114.9 L798.8 1113.0 L798.5 1111.2 L798.3 1109.7 L798.1 1108.3 L797.9 1107.3Z" fill="#58595b" stroke="none"/>
<circle cx="855.6" cy="920.5" r="19.5" fill="none" stroke="#58595b" stroke-width="6.3"/>
<path d="M880.0 816.7 C880.7 821.7 882.6 836.2 884.4 846.7 C886.2 857.2 888.8 868.9 891.0 880.0 C893.2 891.1 896.0 900.0 897.8 913.3 C899.6 926.6 901.2 944.9 902.0 960.0 C902.8 975.1 903.0 989.2 902.8 1003.8 C902.6 1018.3 902.2 1034.1 900.6 1047.5 C899.0 1060.9 896.7 1073.1 893.3 1084.0 C889.9 1094.9 885.5 1104.5 880.2 1113.0 C874.9 1121.5 868.0 1129.2 861.2 1135.0 C854.5 1140.8 846.7 1144.6 839.4 1148.0 C832.1 1151.4 824.6 1154.1 817.5 1155.4 C810.4 1156.7 800.4 1155.9 797.0 1156.0" fill="none" stroke="#58595b" stroke-width="6.3" stroke-linejoin="round" stroke-linecap="round" />
<path d="M797.0 1156.0 L773.8 1146.7 L749.0 1135.0 L744.6 1133.5" fill="none" stroke="#58595b" stroke-width="6.3" stroke-linejoin="round" stroke-linecap="round" />
<path d="M677.8 973.5 C679.9 974.1 688.7 975.3 690.3 977.0 C691.9 978.7 689.6 980.4 687.5 983.9 C685.4 987.4 681.0 991.8 677.8 997.8 C674.5 1003.8 670.5 1012.1 668.0 1020.0 C665.5 1027.9 663.5 1038.3 662.5 1045.0 C661.5 1051.7 662.1 1054.7 662.2 1060.0 C662.3 1065.3 662.4 1071.2 663.3 1076.7 C664.2 1082.2 666.7 1088.3 667.8 1093.3 C668.9 1098.3 670.2 1103.2 670.0 1106.7 C669.8 1110.2 668.6 1112.7 666.7 1114.4 C664.9 1116.2 659.6 1115.7 658.9 1117.2 C658.1 1118.7 661.5 1119.9 662.2 1123.3 C662.9 1126.7 663.2 1133.2 663.3 1137.8 C663.3 1142.4 662.6 1148.8 662.5 1151.0L663.3 1151.0 C666.1 1152.0 674.1 1155.6 680.0 1156.7 C685.9 1157.8 692.4 1158.2 698.9 1157.8 C705.4 1157.4 712.8 1156.2 718.9 1154.4 C725.0 1152.6 730.0 1150.0 735.6 1146.7 C741.2 1143.4 746.7 1139.6 752.2 1134.4 C757.8 1129.2 764.3 1121.5 768.9 1115.6 C773.5 1109.7 776.0 1104.7 780.0 1098.9 C784.0 1093.1 788.4 1089.1 792.7 1081.0 C797.0 1072.9 801.9 1060.9 805.8 1050.4 C809.7 1040.0 813.1 1028.5 816.0 1018.3 C818.9 1008.1 821.1 998.7 823.3 989.0 C825.5 979.3 827.0 971.7 829.2 960.0 C831.4 948.3 834.5 930.5 836.7 919.0 C838.9 907.5 840.5 899.9 842.2 891.0 C843.9 882.1 845.7 871.1 846.7 865.6 C847.8 860.1 848.2 859.3 848.5 858.0 L824.4 876.7 L796.7 896.7 L740 935 Z" fill="url(#fg)" stroke="none" stroke-width="6.3" stroke-linejoin="round" stroke-linecap="round" fill-opacity="0.74"/>
<path d="M725.0 952.0 C726.4 953.4 730.1 957.1 733.3 960.3 C736.5 963.5 741.6 967.2 744.4 971.4 C747.2 975.6 748.6 980.0 750.0 985.3 C751.4 990.6 752.6 996.6 752.8 1003.3 C753.0 1010.0 752.3 1019.1 751.4 1025.6 C750.5 1032.1 749.3 1037.6 747.2 1042.2 C745.1 1046.8 742.1 1050.0 738.9 1053.3 C735.7 1056.5 731.3 1059.4 727.8 1061.7 C724.3 1064.0 719.6 1066.3 718.0 1067.2" fill="none" stroke="#b9babd" stroke-width="4" stroke-linejoin="round" stroke-linecap="round" stroke-opacity="0.4"/>
<path d="M727.8 1061.7 C726.2 1062.6 720.6 1064.5 718.0 1067.2 C715.4 1069.9 713.7 1074.0 712.0 1078.0 C710.3 1082.0 709.1 1085.1 707.8 1091.0 C706.5 1096.9 704.4 1108.5 704.4 1113.3 C704.4 1118.1 701.7 1116.3 707.8 1120.0 C713.9 1123.7 735.5 1133.0 741.0 1135.6" fill="none" stroke="#b9babd" stroke-width="5.5" stroke-linejoin="round" stroke-linecap="round" stroke-opacity="0.75"/>
<path d="M724.4 1064.4 C727.2 1065.9 732.7 1069.2 741.0 1073.3 C749.3 1077.4 768.8 1086.4 774.4 1089.0" fill="none" stroke="#b9babd" stroke-width="4" stroke-linejoin="round" stroke-linecap="round" stroke-opacity="0.7"/>
<path d="M730.0 1074.4 C733.7 1076.0 744.6 1080.8 752.0 1084.0 C759.4 1087.2 770.7 1091.8 774.4 1093.3" fill="none" stroke="#b9babd" stroke-width="3" stroke-linejoin="round" stroke-linecap="round" stroke-opacity="0.5"/>
<path d="M750.0 952.0 C754.2 953.6 766.2 958.0 775.0 961.7 C783.8 965.4 795.8 971.0 802.8 974.2 C809.8 977.4 813.5 978.0 816.7 981.0 C819.9 984.0 821.3 990.3 822.2 992.2" fill="none" stroke="#b9babd" stroke-width="4" stroke-linejoin="round" stroke-linecap="round" stroke-opacity="0.7"/>
<path d="M755.6 964.4 C761.2 966.3 780.0 972.1 789.0 975.6 C798.0 979.1 804.9 982.1 809.7 985.3 C814.5 988.5 816.6 993.4 818.0 995.0" fill="none" stroke="#b9babd" stroke-width="3" stroke-linejoin="round" stroke-linecap="round" stroke-opacity="0.5"/>
<path d="M823.3 979.0 C825.2 980.7 831.6 984.9 835.0 989.0 C838.4 993.1 841.6 997.6 843.8 1003.8 C845.9 1009.9 847.5 1018.3 848.0 1025.6 C848.5 1032.9 847.9 1040.2 846.7 1047.5 C845.5 1054.8 843.5 1062.8 840.8 1069.4 C838.1 1076.0 834.7 1081.8 830.6 1086.9 C826.5 1092.0 821.1 1096.6 816.0 1100.0 C810.9 1103.4 802.7 1106.1 800.0 1107.3" fill="none" stroke="#58595b" stroke-width="6.3" stroke-linejoin="round" stroke-linecap="round" stroke-opacity="0.38"/>
<path d="M820.4 993.5 C821.9 995.7 826.8 1001.4 829.2 1006.7 C831.6 1012.1 834.0 1018.8 835.0 1025.6 C836.0 1032.4 836.0 1040.5 835.0 1047.5 C834.0 1054.5 831.9 1061.8 829.2 1067.9 C826.5 1074.0 822.9 1079.6 819.0 1084.0 C815.1 1088.4 809.5 1091.9 805.8 1094.2 C802.1 1096.5 798.5 1097.2 797.0 1097.8" fill="none" stroke="#58595b" stroke-width="6.3" stroke-linejoin="round" stroke-linecap="round" stroke-opacity="0.38"/>
<path d="M779.6 1092.7 L797.0 1097.8" fill="none" stroke="#58595b" stroke-width="6.3" stroke-linejoin="round" stroke-linecap="round" stroke-opacity="0.38"/>
<path d="M775.2 1101.5 L795.6 1107.3" fill="none" stroke="#58595b" stroke-width="5" stroke-linejoin="round" stroke-linecap="round" stroke-opacity="0.38"/>
<path d="M797.0 1156.0 L773.8 1146.7 L749.0 1135.0 L744.6 1133.5" fill="none" stroke="#58595b" stroke-width="6.3" stroke-linejoin="round" stroke-linecap="round" stroke-opacity="0.38"/>
<path d="M663.3 1151.0 C666.1 1152.0 674.1 1155.6 680.0 1156.7 C685.9 1157.8 692.4 1158.2 698.9 1157.8 C705.4 1157.4 712.8 1156.2 718.9 1154.4 C725.0 1152.6 730.0 1150.0 735.6 1146.7 C741.2 1143.4 746.7 1139.6 752.2 1134.4 C757.8 1129.2 764.3 1121.5 768.9 1115.6 C773.5 1109.7 776.0 1104.7 780.0 1098.9 C784.0 1093.1 788.4 1089.1 792.7 1081.0 C797.0 1072.9 801.9 1060.9 805.8 1050.4 C809.7 1040.0 813.1 1028.5 816.0 1018.3 C818.9 1008.1 821.1 998.7 823.3 989.0 C825.5 979.3 827.0 971.7 829.2 960.0 C831.4 948.3 834.5 930.5 836.7 919.0 C838.9 907.5 840.5 899.9 842.2 891.0 C843.9 882.1 845.7 871.1 846.7 865.6 C847.8 860.1 848.2 859.3 848.5 858.0" fill="none" stroke="#58595b" stroke-width="6.3" stroke-linejoin="round" stroke-linecap="round" stroke-opacity="0.74"/>
<circle cx="695.8" cy="972.8" r="3.20" fill="#58595b" fill-opacity="0.72"/>
<circle cx="703.3" cy="974.5" r="3.20" fill="#58595b" fill-opacity="0.72"/>
<circle cx="710.7" cy="976.2" r="3.20" fill="#58595b" fill-opacity="0.72"/>
<circle cx="718.2" cy="977.8" r="3.20" fill="#58595b" fill-opacity="0.72"/>
<circle cx="725.7" cy="979.5" r="3.20" fill="#58595b" fill-opacity="0.72"/>
<circle cx="732.8" cy="982.1" r="3.20" fill="#58595b" fill-opacity="0.72"/>
<circle cx="737.5" cy="988.0" r="3.20" fill="#58595b" fill-opacity="0.72"/>
<circle cx="740.1" cy="995.2" r="3.20" fill="#58595b" fill-opacity="0.72"/>
<circle cx="741.1" cy="1002.8" r="3.20" fill="#58595b" fill-opacity="0.72"/>
<circle cx="741.7" cy="1010.4" r="3.20" fill="#58595b" fill-opacity="0.72"/>
<circle cx="742.6" cy="1018.0" r="3.20" fill="#58595b" fill-opacity="0.72"/>
<circle cx="743.0" cy="1025.7" r="3.20" fill="#58595b" fill-opacity="0.72"/>
<circle cx="742.7" cy="1033.3" r="3.20" fill="#58595b" fill-opacity="0.72"/>
<circle cx="740.9" cy="1040.7" r="3.20" fill="#58595b" fill-opacity="0.72"/>
<circle cx="737.6" cy="1047.6" r="3.20" fill="#58595b" fill-opacity="0.72"/>
<circle cx="734.1" cy="1054.4" r="3.20" fill="#58595b" fill-opacity="0.72"/>
<circle cx="730.4" cy="1061.1" r="3.20" fill="#58595b" fill-opacity="0.72"/>
<circle cx="726.3" cy="1067.6" r="3.20" fill="#58595b" fill-opacity="0.72"/>
<circle cx="721.4" cy="1073.4" r="3.20" fill="#58595b" fill-opacity="0.72"/>
<circle cx="715.8" cy="1078.6" r="3.20" fill="#58595b" fill-opacity="0.72"/>
<circle cx="710.1" cy="1083.7" r="3.20" fill="#58595b" fill-opacity="0.72"/>
<circle cx="703.7" cy="1087.8" r="3.20" fill="#58595b" fill-opacity="0.72"/>
<circle cx="696.9" cy="1091.5" r="3.20" fill="#58595b" fill-opacity="0.72"/>
<circle cx="690.1" cy="1094.9" r="3.20" fill="#58595b" fill-opacity="0.72"/>
<circle cx="682.6" cy="1096.3" r="3.20" fill="#58595b" fill-opacity="0.72"/>
<circle cx="675.4" cy="1093.9" r="3.20" fill="#58595b" fill-opacity="0.72"/>
<circle cx="709.7" cy="962.4" r="3.20" fill="#58595b" fill-opacity="0.85"/>
<circle cx="717.2" cy="963.8" r="3.20" fill="#58595b" fill-opacity="0.85"/>
<circle cx="724.8" cy="965.1" r="3.20" fill="#58595b" fill-opacity="0.85"/>
<circle cx="732.1" cy="967.2" r="3.20" fill="#58595b" fill-opacity="0.85"/>
<circle cx="739.6" cy="968.6" r="3.20" fill="#58595b" fill-opacity="0.85"/>
<circle cx="746.8" cy="971.0" r="3.20" fill="#58595b" fill-opacity="0.85"/>
<circle cx="750.3" cy="977.7" r="3.20" fill="#58595b" fill-opacity="0.85"/>
<circle cx="753.1" cy="984.8" r="3.20" fill="#58595b" fill-opacity="0.85"/>
<circle cx="754.9" cy="992.2" r="3.20" fill="#58595b" fill-opacity="0.85"/>
<circle cx="756.2" cy="999.8" r="3.20" fill="#58595b" fill-opacity="0.85"/>
<circle cx="757.0" cy="1007.4" r="3.20" fill="#58595b" fill-opacity="0.85"/>
<circle cx="757.6" cy="1015.0" r="3.20" fill="#58595b" fill-opacity="0.85"/>
<circle cx="757.6" cy="1022.7" r="3.20" fill="#58595b" fill-opacity="0.85"/>
<circle cx="757.2" cy="1030.3" r="3.20" fill="#58595b" fill-opacity="0.85"/>
<circle cx="757.0" cy="1038.0" r="3.20" fill="#58595b" fill-opacity="0.85"/>
<circle cx="756.3" cy="1045.6" r="3.20" fill="#58595b" fill-opacity="0.85"/>
<circle cx="754.3" cy="1053.0" r="3.20" fill="#58595b" fill-opacity="0.85"/>
<circle cx="751.7" cy="1060.2" r="3.20" fill="#58595b" fill-opacity="0.85"/>
<circle cx="748.5" cy="1067.1" r="3.20" fill="#58595b" fill-opacity="0.85"/>
<circle cx="744.3" cy="1073.5" r="3.20" fill="#58595b" fill-opacity="0.85"/>
<circle cx="739.8" cy="1079.7" r="3.20" fill="#58595b" fill-opacity="0.85"/>
<circle cx="734.8" cy="1085.4" r="3.20" fill="#58595b" fill-opacity="0.85"/>
<circle cx="729.5" cy="1090.9" r="3.20" fill="#58595b" fill-opacity="0.85"/>
<circle cx="723.4" cy="1095.6" r="3.20" fill="#58595b" fill-opacity="0.85"/>
<circle cx="716.9" cy="1099.6" r="3.20" fill="#58595b" fill-opacity="0.85"/>
<circle cx="710.4" cy="1103.7" r="3.20" fill="#58595b" fill-opacity="0.85"/>
<circle cx="703.6" cy="1107.2" r="3.20" fill="#58595b" fill-opacity="0.85"/>
<circle cx="696.6" cy="1110.1" r="3.20" fill="#58595b" fill-opacity="0.85"/>
<circle cx="689.3" cy="1112.5" r="3.20" fill="#58595b" fill-opacity="0.85"/>
<circle cx="681.9" cy="1114.3" r="3.20" fill="#58595b" fill-opacity="0.85"/>
<circle cx="675.4" cy="1110.8" r="3.20" fill="#58595b" fill-opacity="0.85"/>
<circle cx="683.3" cy="1098.3" r="3.20" fill="#58595b" fill-opacity="0.72"/>
<circle cx="682.1" cy="1105.9" r="3.20" fill="#58595b" fill-opacity="0.72"/>
<circle cx="680.3" cy="1113.3" r="3.20" fill="#58595b" fill-opacity="0.72"/>
<circle cx="677.9" cy="1120.6" r="3.20" fill="#58595b" fill-opacity="0.72"/>
<circle cx="675.4" cy="1127.8" r="3.20" fill="#58595b" fill-opacity="0.72"/>
<circle cx="672.8" cy="1135.0" r="3.20" fill="#58595b" fill-opacity="0.72"/>
<circle cx="670.4" cy="1142.2" r="3.20" fill="#58595b" fill-opacity="0.72"/>
<circle cx="756.9" cy="933.2" r="3.10" fill="#58595b" fill-opacity="0.78"/>
<circle cx="754.9" cy="940.8" r="3.10" fill="#58595b" fill-opacity="0.78"/>
<circle cx="752.8" cy="948.5" r="3.10" fill="#58595b" fill-opacity="0.78"/>
<circle cx="751.4" cy="955.4" r="3.10" fill="#58595b" fill-opacity="0.78"/>
<circle cx="749.7" cy="963.0" r="1.60" fill="#58595b" fill-opacity="0.78"/>
<circle cx="810.9" cy="942.9" r="3.10" fill="#58595b" fill-opacity="0.78"/>
<circle cx="811.6" cy="949.2" r="3.10" fill="#58595b" fill-opacity="0.78"/>
<circle cx="811.2" cy="955.3" r="3.10" fill="#58595b" fill-opacity="0.78"/>
<circle cx="809.7" cy="960.9" r="3.10" fill="#58595b" fill-opacity="0.78"/>
<circle cx="807.1" cy="965.8" r="3.10" fill="#58595b" fill-opacity="0.78"/>
<circle cx="803.6" cy="969.5" r="3.10" fill="#58595b" fill-opacity="0.78"/>
<circle cx="799.4" cy="971.9" r="3.10" fill="#58595b" fill-opacity="0.78"/>
<circle cx="794.8" cy="972.9" r="3.10" fill="#58595b" fill-opacity="0.78"/>
<circle cx="790.0" cy="972.4" r="3.10" fill="#58595b" fill-opacity="0.78"/>
<circle cx="785.3" cy="970.4" r="3.10" fill="#58595b" fill-opacity="0.78"/>
<circle cx="781.0" cy="967.0" r="3.10" fill="#58595b" fill-opacity="0.78"/>
<circle cx="777.3" cy="962.5" r="3.10" fill="#58595b" fill-opacity="0.78"/>
<circle cx="774.4" cy="957.1" r="3.10" fill="#58595b" fill-opacity="0.78"/>
<circle cx="772.5" cy="951.1" r="3.10" fill="#58595b" fill-opacity="0.78"/>
<circle cx="771.8" cy="944.8" r="3.10" fill="#58595b" fill-opacity="0.78"/>
<circle cx="772.2" cy="938.7" r="3.10" fill="#58595b" fill-opacity="0.78"/>
<circle cx="773.7" cy="933.1" r="3.10" fill="#58595b" fill-opacity="0.78"/>
<circle cx="776.3" cy="928.2" r="3.10" fill="#58595b" fill-opacity="0.78"/>
<circle cx="779.8" cy="924.5" r="3.10" fill="#58595b" fill-opacity="0.78"/>
<circle cx="784.0" cy="922.1" r="3.10" fill="#58595b" fill-opacity="0.78"/>
<circle cx="788.6" cy="921.1" r="3.10" fill="#58595b" fill-opacity="0.78"/>
<circle cx="793.4" cy="921.6" r="3.10" fill="#58595b" fill-opacity="0.78"/>
<circle cx="798.1" cy="923.6" r="3.10" fill="#58595b" fill-opacity="0.78"/>
<circle cx="802.4" cy="927.0" r="3.10" fill="#58595b" fill-opacity="0.78"/>
<circle cx="806.1" cy="931.5" r="3.10" fill="#58595b" fill-opacity="0.78"/>
<circle cx="809.0" cy="936.9" r="3.10" fill="#58595b" fill-opacity="0.78"/>
<circle cx="779.5" cy="938.0" r="2.30" fill="#9a9b9e" fill-opacity="0.35"/>
<circle cx="777.5" cy="945.5" r="2.30" fill="#9a9b9e" fill-opacity="0.35"/>
<circle cx="772.0" cy="946.5" r="2.30" fill="#9a9b9e" fill-opacity="0.35"/>
<circle cx="765.0" cy="948.0" r="2.30" fill="#9a9b9e" fill-opacity="0.35"/>
<path d="M677.8 973.5 C679.9 974.1 688.7 975.3 690.3 977.0 C691.9 978.7 689.6 980.4 687.5 983.9 C685.4 987.4 681.0 991.8 677.8 997.8 C674.5 1003.8 670.5 1012.1 668.0 1020.0 C665.5 1027.9 663.5 1038.3 662.5 1045.0 C661.5 1051.7 662.1 1054.7 662.2 1060.0 C662.3 1065.3 662.4 1071.2 663.3 1076.7 C664.2 1082.2 666.7 1088.3 667.8 1093.3 C668.9 1098.3 670.2 1103.2 670.0 1106.7 C669.8 1110.2 668.6 1112.7 666.7 1114.4 C664.9 1116.2 659.6 1115.7 658.9 1117.2 C658.1 1118.7 661.5 1119.9 662.2 1123.3 C662.9 1126.7 663.2 1133.2 663.3 1137.8 C663.3 1142.4 662.6 1148.8 662.5 1151.0" fill="none" stroke="#58595b" stroke-width="6.3" stroke-linejoin="round" stroke-linecap="round" />
<path d="M677.8 973.5 C688.2 967.1 723.0 946.0 740.0 935.0 C757.0 924.0 770.5 914.2 780.0 907.8 C789.5 901.4 789.3 901.9 796.7 896.7 C804.1 891.5 815.1 884.1 824.4 876.7 C833.6 869.3 844.8 859.6 852.2 852.2 C859.6 844.8 864.8 838.1 868.9 832.2 C873.0 826.3 875.4 819.3 876.7 816.7" fill="none" stroke="#58595b" stroke-width="6.3" stroke-linejoin="round" stroke-linecap="round" />
<circle cx="626.4" cy="749.0" r="1.30" fill="#d2202a"/>
<circle cx="619.0" cy="737.8" r="1.90" fill="#d2202a"/>
<circle cx="610.6" cy="727.0" r="2.50" fill="#d2202a"/>
<circle cx="601.0" cy="717.5" r="3.10" fill="#d2202a"/>
<circle cx="590.0" cy="709.2" r="3.70" fill="#d2202a"/>
<circle cx="578.5" cy="702.0" r="4.20" fill="#d2202a"/>
<circle cx="565.7" cy="696.4" r="4.50" fill="#d2202a"/>
<circle cx="552.5" cy="692.5" r="4.50" fill="#d2202a"/>
<circle cx="538.9" cy="690.4" r="4.50" fill="#d2202a"/>
<circle cx="525.3" cy="690.4" r="4.50" fill="#d2202a"/>
<circle cx="512.0" cy="692.2" r="4.50" fill="#d2202a"/>
<circle cx="498.6" cy="696.0" r="4.50" fill="#d2202a"/>
<circle cx="486.0" cy="701.0" r="4.50" fill="#d2202a"/>
<circle cx="474.0" cy="707.0" r="4.50" fill="#d2202a"/>
<circle cx="462.8" cy="714.5" r="4.50" fill="#d2202a"/>
<circle cx="452.2" cy="723.4" r="4.50" fill="#d2202a"/>
<circle cx="442.5" cy="733.1" r="4.50" fill="#d2202a"/>
<circle cx="434.0" cy="743.8" r="4.50" fill="#d2202a"/>
<circle cx="426.2" cy="755.0" r="4.50" fill="#d2202a"/>
<circle cx="419.1" cy="766.5" r="4.50" fill="#d2202a"/>
<circle cx="412.8" cy="778.8" r="4.50" fill="#d2202a"/>
<circle cx="407.5" cy="791.2" r="4.50" fill="#d2202a"/>
<circle cx="403.2" cy="804.0" r="4.50" fill="#d2202a"/>
<circle cx="399.8" cy="816.9" r="4.50" fill="#d2202a"/>
<circle cx="397.2" cy="830.2" r="4.50" fill="#d2202a"/>
<circle cx="395.2" cy="843.8" r="4.50" fill="#d2202a"/>
<circle cx="394.5" cy="857.6" r="4.50" fill="#d2202a"/>
<circle cx="394.6" cy="871.5" r="4.50" fill="#d2202a"/>
<circle cx="395.3" cy="884.7" r="4.50" fill="#d2202a"/>
<circle cx="397.4" cy="898.6" r="4.50" fill="#d2202a"/>
<circle cx="400.1" cy="911.8" r="4.50" fill="#d2202a"/>
<circle cx="403.9" cy="925.0" r="4.50" fill="#d2202a"/>
<circle cx="408.8" cy="937.8" r="4.50" fill="#d2202a"/>
<circle cx="414.7" cy="950.0" r="4.50" fill="#d2202a"/>
<circle cx="421.7" cy="961.8" r="4.50" fill="#d2202a"/>
<circle cx="429.7" cy="972.5" r="4.50" fill="#d2202a"/>
<circle cx="438.6" cy="982.6" r="4.50" fill="#d2202a"/>
<circle cx="449.0" cy="991.7" r="4.50" fill="#d2202a"/>
<circle cx="460.3" cy="999.3" r="4.50" fill="#d2202a"/>
<circle cx="472.4" cy="1005.8" r="4.50" fill="#d2202a"/>
<circle cx="485.3" cy="1010.8" r="4.50" fill="#d2202a"/>
<circle cx="498.5" cy="1013.9" r="4.50" fill="#d2202a"/>
<circle cx="511.9" cy="1014.9" r="4.50" fill="#d2202a"/>
<circle cx="525.6" cy="1013.9" r="4.50" fill="#d2202a"/>
<circle cx="539.0" cy="1011.4" r="4.50" fill="#d2202a"/>
<circle cx="552.2" cy="1006.9" r="4.50" fill="#d2202a"/>
<circle cx="564.7" cy="1001.4" r="4.50" fill="#d2202a"/>
<circle cx="576.2" cy="994.2" r="4.50" fill="#d2202a"/>
<circle cx="586.8" cy="986.1" r="4.50" fill="#d2202a"/>
<circle cx="597.5" cy="977.4" r="4.30" fill="#d2202a"/>
<circle cx="607.0" cy="967.1" r="3.90" fill="#d2202a"/>
<circle cx="614.9" cy="956.3" r="3.50" fill="#d2202a"/>
<circle cx="622.5" cy="944.7" r="3.00" fill="#d2202a"/>
<circle cx="629.1" cy="932.8" r="2.50" fill="#d2202a"/>
<circle cx="634.7" cy="920.2" r="2.00" fill="#d2202a"/>
<circle cx="640.0" cy="907.5" r="1.50" fill="#d2202a"/>
<circle cx="643.2" cy="895.0" r="1.00" fill="#d2202a"/>
<circle cx="646.0" cy="881.9" r="0.60" fill="#d2202a"/>
<path d="M591.5 740.8 L630.5 754.9 L648.0 719.0 L657.2 738.8 L640.4 780.0 L600.7 762.5Z" fill="#d2202a" stroke="none" stroke-width="6.3" stroke-linejoin="round" stroke-linecap="round" />
<path d="M694.3 1167.9 L737.6 1171.2 L753.9 1190.1 L714.2 1186.5 L707.3 1229.9 L689.8 1209.1Z" fill="#d2202a" stroke="none" stroke-width="6.3" stroke-linejoin="round" stroke-linecap="round" />
<circle cx="721.4" cy="1195.2" r="4.10" fill="#d2202a"/>
<circle cx="732.2" cy="1202.8" r="4.10" fill="#d2202a"/>
<circle cx="744.5" cy="1208.6" r="4.10" fill="#d2202a"/>
<circle cx="757.5" cy="1213.3" r="4.10" fill="#d2202a"/>
<circle cx="771.6" cy="1215.8" r="4.10" fill="#d2202a"/>
<circle cx="785.1" cy="1216.3" r="4.10" fill="#d2202a"/>
<circle cx="798.7" cy="1214.5" r="4.10" fill="#d2202a"/>
<circle cx="812.0" cy="1211.5" r="4.10" fill="#d2202a"/>
<circle cx="824.7" cy="1207.3" r="4.10" fill="#d2202a"/>
<circle cx="837.0" cy="1201.0" r="4.10" fill="#d2202a"/>
<circle cx="848.2" cy="1192.9" r="4.10" fill="#d2202a"/>
<circle cx="858.3" cy="1183.3" r="4.10" fill="#d2202a"/>
<circle cx="867.1" cy="1172.6" r="4.10" fill="#d2202a"/>
<circle cx="874.0" cy="1161.3" r="4.10" fill="#d2202a"/>
<circle cx="879.4" cy="1148.6" r="4.10" fill="#d2202a"/>
<circle cx="883.9" cy="1136.0" r="4.10" fill="#d2202a"/>
<circle cx="886.6" cy="1123.0" r="4.10" fill="#d2202a"/>
</svg>
<div class="cap" style="top:1244px;font-size:55px;line-height:55px;"><span style="display:inline-block;transform:scaleX(0.941);transform-origin:50% 50%;">Convenient installation, transfer</span></div>
<div class="cap" style="top:1308px;font-size:55px;line-height:55px;"><span style="display:inline-block;transform:scaleX(0.9515);transform-origin:50% 50%;">and removal of base</span></div>
</body></html>
